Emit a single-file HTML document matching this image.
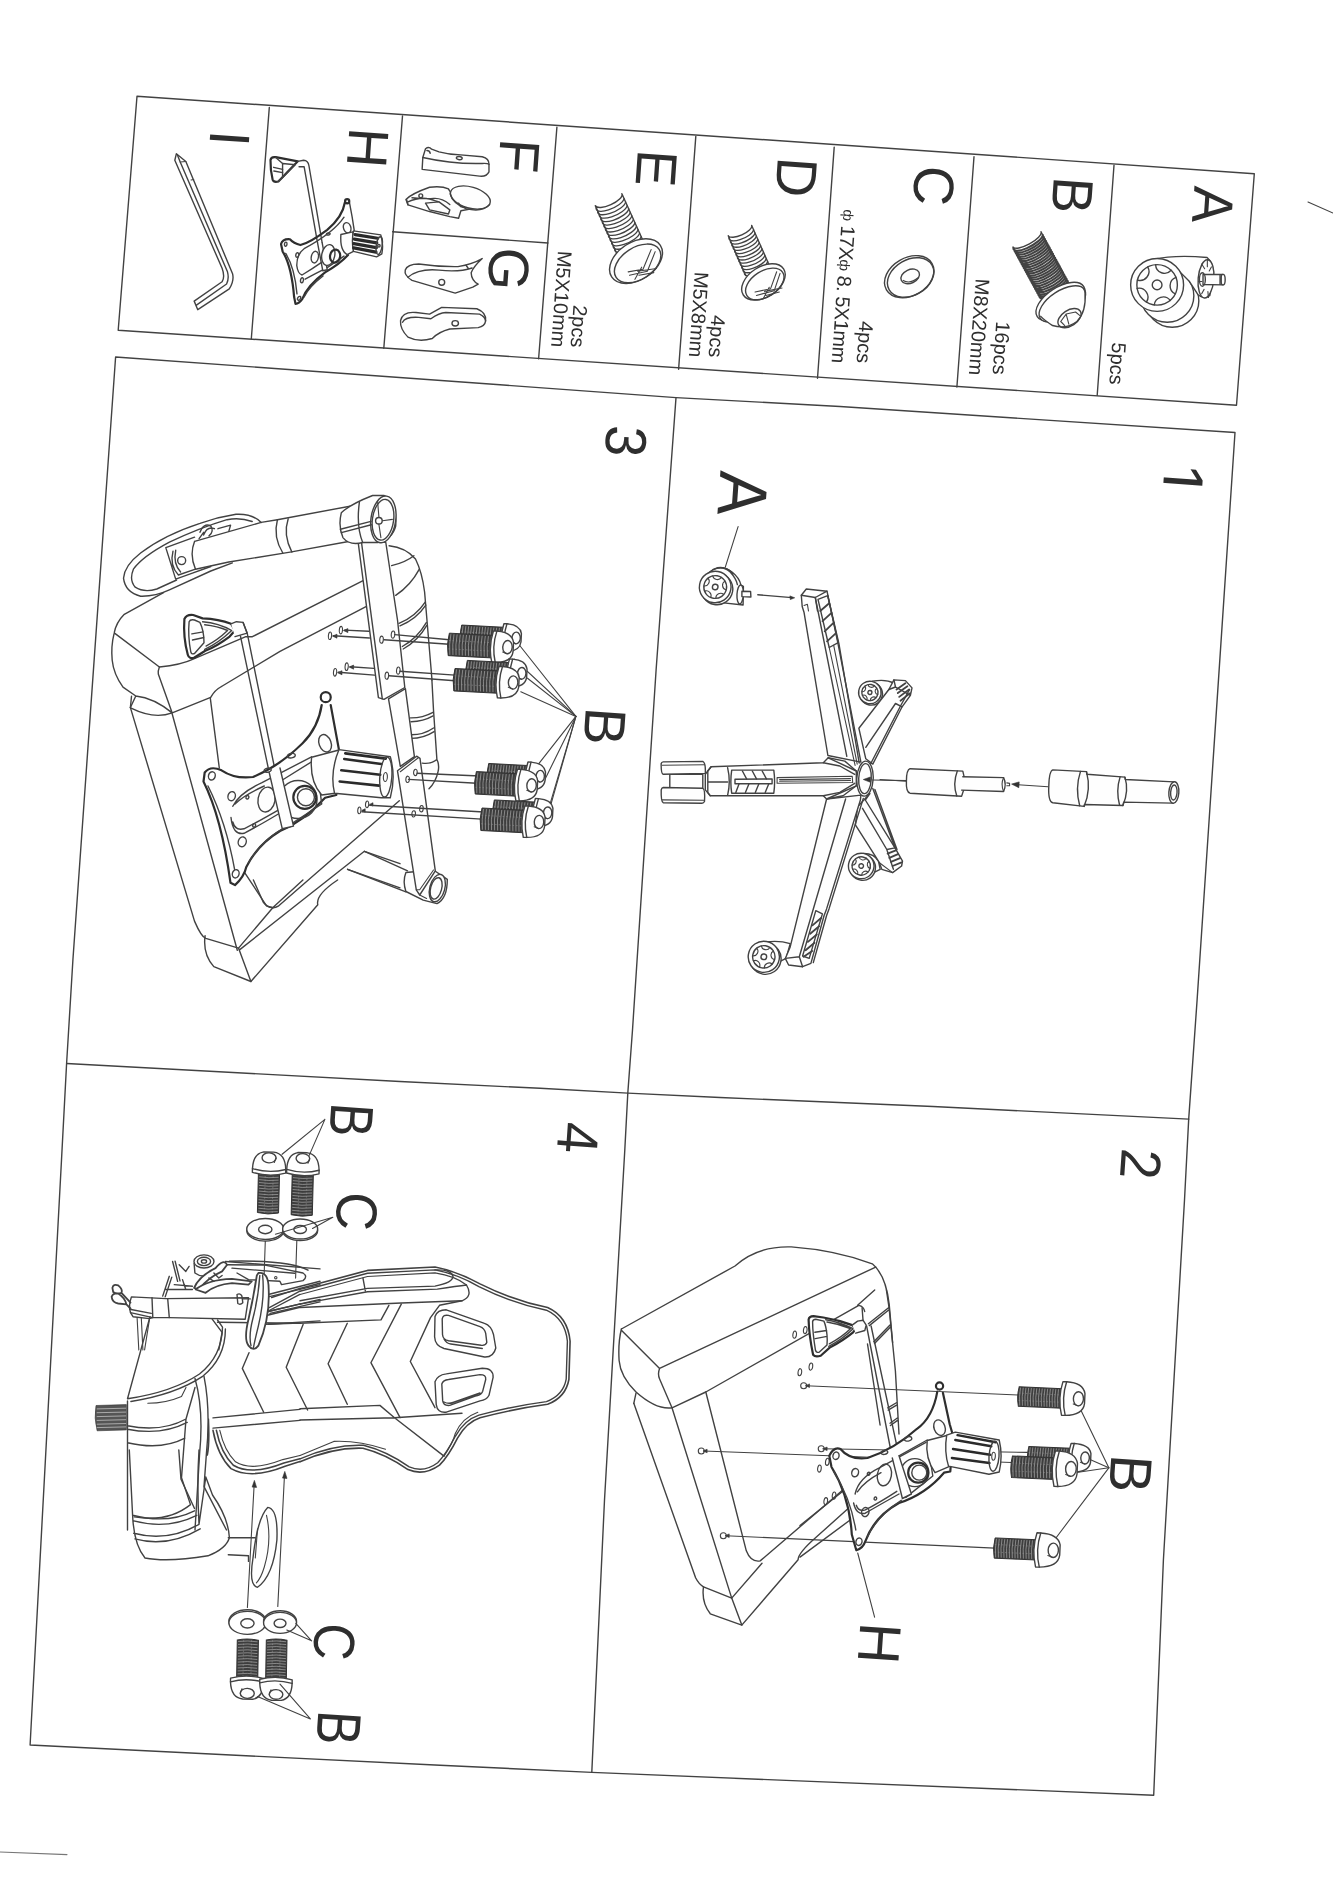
<!DOCTYPE html>
<html><head><meta charset="utf-8"><title>Assembly instructions</title>
<style>
html,body{margin:0;padding:0;background:#ffffff;}
body{width:1333px;height:1900px;overflow:hidden;}
svg{display:block;filter:grayscale(1);}
text{font-family:"Liberation Sans",sans-serif;fill:#2e2e2e;}
.l{fill:none;stroke:#424242;stroke-width:1.4;stroke-linecap:round;stroke-linejoin:round;vector-effect:non-scaling-stroke;}
.f{fill:#fefefe;stroke:#424242;stroke-width:1.4;stroke-linecap:round;stroke-linejoin:round;vector-effect:non-scaling-stroke;}
.t{fill:none;stroke:#424242;stroke-width:1.1;stroke-linecap:round;stroke-linejoin:round;vector-effect:non-scaling-stroke;}
.k{fill:#333;stroke:#333;stroke-width:0.6;stroke-linejoin:round;vector-effect:non-scaling-stroke;}
.b{fill:none;stroke:#2e2e2e;stroke-width:2.2;stroke-linecap:round;stroke-linejoin:round;vector-effect:non-scaling-stroke;}
</style></head>
<body>
<svg width="1333" height="1900" viewBox="0 0 1333 1900">
<rect width="1333" height="1900" fill="#ffffff"/>
<!-- frames -->
<g class="l" style="stroke-width:1.4">
<path d="M137,96.2 L1254.3,173.7 L1236.5,405.2 L118.2,330.2 Z"/>
<path d="M269.3,107.5 L251.3,339"/>
<path d="M402.5,116 L383.8,348.3"/>
<path d="M556.9,127.3 L538.6,358.8"/>
<path d="M392.6,231.7 L547.9,243"/>
<path d="M695.8,136.4 L678.6,369.2"/>
<path d="M834.2,147.1 L817.5,378.2"/>
<path d="M974,156.7 L956.9,387"/>
<path d="M1114,165.2 L1097.2,395.3"/>
<path d="M115.6,357 L500,384.8 L676,397.6 L840,406.5 L1235,432.5 L1197.1,1000 L1188.7,1119.1 L1184.5,1200 L1163.4,1560 L1153.7,1795.2 L780,1780.1 L591.8,1772.4 L440,1765.3 L30.1,1745 L61.5,1160 L66.6,1063.5 L72.9,960 Z"/>
<path d="M676,397.6 L656.1,670 L632.5,1030 L627.8,1093.1 L624.8,1150 L604.5,1500 L591.8,1772.4"/>
<path d="M66.6,1063.5 L400,1081.5 L540,1088.3 L627.8,1093.1 L720,1097.5 L933,1106.5 L1188.7,1119.1"/>
</g>
<path class="t" d="M1308,202 L1333,213"/>
<path class="t" d="M0,1852 L67,1854.6" style="stroke:#777"/>

<text transform="translate(210.5,129.5) rotate(94) scale(0.96,1)" font-size="57" text-anchor="start" class="big">I</text>
<text transform="translate(349.5,126.8) rotate(94) scale(0.96,1)" font-size="57" text-anchor="start" class="big">H</text>
<text transform="translate(500.5,137.7) rotate(94) scale(0.96,1)" font-size="57" text-anchor="start" class="big">F</text>
<text transform="translate(490.5,246.5) rotate(94) scale(0.96,1)" font-size="57" text-anchor="start" class="big">G</text>
<text transform="translate(638,148.8) rotate(94) scale(0.96,1)" font-size="57" text-anchor="start" class="big">E</text>
<text transform="translate(778,156.3) rotate(94) scale(0.96,1)" font-size="57" text-anchor="start" class="big">D</text>
<text transform="translate(915.5,164.7) rotate(94) scale(0.96,1)" font-size="57" text-anchor="start" class="big">C</text>
<text transform="translate(1054,175.8) rotate(94) scale(0.96,1)" font-size="57" text-anchor="start" class="big">B</text>
<text transform="translate(1194.5,185.5) rotate(94) scale(0.96,1)" font-size="57" text-anchor="start" class="big">A</text>
<text transform="translate(570.5,346.9) rotate(94) scale(1.0,1)" font-size="20" text-anchor="end" >2pcs</text>
<text transform="translate(551.2,346.9) rotate(94) scale(1.0,1)" font-size="20" text-anchor="end" >M5X10mm</text>
<text transform="translate(708.5,356.9) rotate(94) scale(1.0,1)" font-size="20" text-anchor="end" >4pcs</text>
<text transform="translate(688.9,356.9) rotate(94) scale(1.0,1)" font-size="20" text-anchor="end" >M5X8mm</text>
<text transform="translate(856.6,362.8) rotate(94) scale(1.0,1)" font-size="20" text-anchor="end" >4pcs</text>
<text transform="translate(831.6,362.8) rotate(94) scale(1.0,1)" font-size="20" text-anchor="end" textLength="154" lengthAdjust="spacing"><tspan font-size="14" dy="-1.5">ф</tspan><tspan dy="1.5"> 17X</tspan><tspan font-size="14" dy="-1.5">ф</tspan><tspan dy="1.5"> 8. 5X1mm</tspan></text>
<text transform="translate(992.5,374.2) rotate(94) scale(1.0,1)" font-size="20" text-anchor="end" >16pcs</text>
<text transform="translate(968.9,374.8) rotate(94) scale(1.0,1)" font-size="20" text-anchor="end" >M8X20mm</text>
<text transform="translate(1109.2,384.2) rotate(94) scale(1.0,1)" font-size="20" text-anchor="end" >5pcs</text>
<g transform="translate(110,90) scale(0.225058)" >
<path class="f" d="M295,283 L288,312 L498,792 Q512,830 498,852 L374,938 L390,976 L530,884 Q552,850 545,818 L337,318 Z" />
<path class="l" d="M300,290 L312,320 L522,808 Q530,838 518,862 L384,956" />
<path class="t" d="M312,320 L337,318 M360,400 L372,398" />
</g>

<g transform="translate(260,150) scale(0.105027)" >
<path class="b" d="M100,95 Q105,62 150,68 L360,108 L175,300 Q130,312 120,282 Q98,190 100,95 Z" />
<path class="l" d="M215,128 L335,140 L215,262 Z" />
<path class="l" d="M130,165 L215,185 M132,200 L215,215 M150,72 L215,128 M170,300 L215,262" />
<path class="l" d="M360,108 L415,98 Q458,100 466,150 L592,885 M372,160 L420,158 L548,885" />
<path class="b" d="M808,500 Q785,640 640,760 Q480,880 385,905 Q320,890 285,850 Q215,845 200,895 L215,965 Q300,1100 325,1400 L338,1465 Q372,1462 402,1420 Q450,1290 620,1165 Q760,1085 838,1000" />
<path class="l" d="M852,500 Q880,640 898,770" />
<circle class="b" cx="830" cy="488" r="20" />
<path class="l" d="M800,640 Q700,790 420,940 Q350,990 350,1100 Q360,1180 400,1190 Q500,1130 600,1060 M430,1230 Q520,1180 640,1120 L800,1010" />
<path class="l" d="M245,985 Q330,1120 352,1370 M420,1400 Q470,1300 600,1200" />
<path class="f" d="M548,885 L598,1150 L640,1140 L592,885" />
<ellipse class="f" cx="650" cy="1000" rx="62" ry="100" transform="rotate(10 650 1000)" />
<ellipse class="b" cx="715" cy="1010" rx="48" ry="62" transform="rotate(10 715 1010)" />
<ellipse class="l" cx="522" cy="1020" rx="34" ry="56" transform="rotate(10 522 1020)" />
<ellipse class="l" cx="245" cy="897" rx="12" ry="20" transform="rotate(10 245 897)" />
<ellipse class="l" cx="355" cy="1000" rx="14" ry="22" transform="rotate(10 355 1000)" />
<ellipse class="l" cx="400" cy="1240" rx="14" ry="24" transform="rotate(10 400 1240)" />
<ellipse class="l" cx="372" cy="1412" rx="13" ry="20" transform="rotate(30 372 1412)" />
<ellipse class="l" cx="650" cy="800" rx="18" ry="10" transform="rotate(-10 650 800)" />
<ellipse class="l" cx="830" cy="740" rx="35" ry="50" transform="rotate(-20 830 740)" />
<path class="f" d="M770,805 L885,780 L890,965 L830,995 Q760,960 770,805 Z" />
<path class="f" d="M890,770 L1150,808 Q1178,900 1160,990 L1110,1018 L890,965 Q870,870 890,770 Z" />
<path class="l" d="M905,805 L1120,840 M898,848 L1112,885 M893,892 L1108,930 M892,932 L1104,972" style="stroke-width:3.2;stroke:#2a2a2a"/>
<ellipse class="l" cx="1135" cy="910" rx="28" ry="85" transform="rotate(8 1135 910)" />
<circle class="l" cx="1132" cy="912" r="12" />
</g>

<g transform="translate(385,110) scale(0.135033)" >
<path class="f" d="M300,287 Q325,268 345,290 L400,310 Q480,332 560,332 L720,346 Q772,360 770,402 L770,458 Q750,497 700,490 L275,440 L280,352 Z" />
<path class="l" d="M280,352 Q500,402 720,396 Q760,394 770,402 M310,300 Q330,300 335,320" />
<ellipse class="l" cx="550" cy="356" rx="22" ry="12" transform="rotate(5 550 356)" />
<path class="f" d="M155,662 Q200,618 330,572 Q420,560 470,585 L480,600 Q500,660 560,700 L640,732 L562,746 L545,802 L480,790 L330,752 L170,702 Z" />
<path class="l" d="M170,680 Q260,640 330,660 L400,680 L480,740 L470,770 M200,650 Q300,660 360,655 Q420,650 480,700 M300,690 L330,740 L470,770 M160,665 L170,702 M400,680 L300,690" />
<circle class="l" cx="265" cy="635" r="14" />
<ellipse class="f" cx="632" cy="648" rx="152" ry="78" transform="rotate(16 632 648)" />
<path class="l" d="M483,620 Q500,690 600,730 Q720,760 775,700" />
<path class="l" d="M545,690 L560,715 L600,725" />
<path class="f" d="M150,1185 Q165,1140 250,1140 Q400,1162 540,1160 Q650,1140 720,1100 Q655,1160 638,1205 Q640,1262 690,1290 L650,1312 L520,1356 L200,1262 Q140,1225 150,1185 Z" />
<path class="l" d="M170,1238 Q250,1172 400,1186 Q550,1202 645,1170 M600,1150 L615,1170" />
<circle class="l" cx="420" cy="1276" r="22" />
<path class="f" d="M115,1560 Q130,1490 230,1500 L330,1512 L420,1462 L680,1472 Q752,1500 745,1562 Q740,1602 690,1612 L480,1622 Q400,1642 350,1692 Q250,1722 170,1682 Q110,1622 115,1560 Z" />
<path class="l" d="M130,1572 Q150,1530 250,1536 L340,1546 Q400,1502 450,1500 L700,1512 Q740,1530 745,1562" />
<ellipse class="l" cx="520" cy="1580" rx="24" ry="20" transform="rotate(0 520 1580)" />
</g>

<g transform="translate(535,120) scale(0.135033)" >
<path class="l" style="fill:#fefefe" d="M798.5,890.7 L643.5,545.7 A108.0,41.0 155.8 0 1 446.5,634.3 L601.5,979.3"/>
<path class="t" style="stroke-width:1.3" d="M659.9,582.2 A108.0,41.0 155.8 0 1 453.0,648.9 M671.4,607.8 A108.0,41.0 155.8 0 1 464.5,674.4 M682.9,633.4 A108.0,41.0 155.8 0 1 476.0,700.0 M694.4,658.9 A108.0,41.0 155.8 0 1 487.5,725.5 M705.8,684.5 A108.0,41.0 155.8 0 1 499.0,751.1 M717.3,710.0 A108.0,41.0 155.8 0 1 510.5,776.6 M728.8,735.6 A108.0,41.0 155.8 0 1 521.9,802.2 M740.3,761.1 A108.0,41.0 155.8 0 1 533.4,827.8 M751.8,786.7 A108.0,41.0 155.8 0 1 544.9,853.3 M763.2,812.2 A108.0,41.0 155.8 0 1 556.4,878.9 M774.7,837.8 A108.0,41.0 155.8 0 1 567.9,904.4 M786.2,863.4 A108.0,41.0 155.8 0 1 579.3,930.0 M797.7,888.9 A108.0,41.0 155.8 0 1 590.8,955.5"/>
<ellipse class="f" cx="748" cy="1045" rx="215" ry="140" transform="rotate(-33 748 1045)" />
<ellipse class="l" cx="760" cy="1062" rx="190" ry="118" transform="rotate(-33 760 1062)" />
<path class="t" d="M860,960 L800,1105 L690,1125 M890,975 L832,1120 L700,1150 M760,1120 L900,1100 M770,1150 L880,1130 M740,1180 L790,1090" />
</g>

<g transform="translate(670,130) scale(0.135033)" >
<path class="l" style="fill:#fefefe" d="M734.9,1001.7 L604.9,706.7 A95.0,36.1 156.2 0 1 431.1,783.3 L561.1,1078.3"/>
<path class="t" style="stroke-width:1.3" d="M619.4,739.4 A95.0,36.1 156.2 0 1 437.4,797.8 M629.8,763.0 A95.0,36.1 156.2 0 1 447.8,821.4 M640.2,786.6 A95.0,36.1 156.2 0 1 458.2,845.0 M650.6,810.2 A95.0,36.1 156.2 0 1 468.6,868.6 M661.0,833.8 A95.0,36.1 156.2 0 1 479.0,892.2 M671.4,857.4 A95.0,36.1 156.2 0 1 489.4,915.8 M681.8,881.0 A95.0,36.1 156.2 0 1 499.8,939.4 M692.2,904.6 A95.0,36.1 156.2 0 1 510.2,963.0 M702.6,928.2 A95.0,36.1 156.2 0 1 520.6,986.6 M713.0,951.8 A95.0,36.1 156.2 0 1 531.0,1010.2 M723.4,975.4 A95.0,36.1 156.2 0 1 541.4,1033.8 M733.8,999.0 A95.0,36.1 156.2 0 1 551.8,1057.4"/>
<ellipse class="f" cx="692" cy="1125" rx="178" ry="112" transform="rotate(-33 692 1125)" />
<ellipse class="l" cx="702" cy="1140" rx="158" ry="95" transform="rotate(-33 702 1140)" />
<path class="t" d="M790,1050 L745,1175 L630,1200 M815,1062 L772,1190 L640,1225 M700,1195 L830,1170 M710,1225 L810,1200 M690,1250 L735,1165" />
</g>

<g transform="translate(810,140) scale(0.135033)" >
<ellipse class="f" cx="735" cy="1012" rx="195" ry="140" transform="rotate(-30 735 1012)" />
<ellipse class="l" cx="745" cy="1018" rx="183" ry="132" transform="rotate(-30 745 1018)" />
<ellipse class="l" cx="742" cy="1010" rx="72" ry="50" transform="rotate(-25 742 1010)" />
<path class="t" d="M690,1040 Q740,1070 800,1020" />
</g>

<g transform="translate(950,150) scale(0.135033)" >
<path class="l" style="fill:#fefefe" d="M878.7,983.7 L673.7,605.7 A118.0,38.9 151.5 0 1 466.3,718.3 L671.3,1096.3"/>
<path class="t" style="stroke-width:2.0" d="M686.9,630.0 A118.0,38.9 151.5 0 1 469.9,724.9 M695.2,645.4 A118.0,38.9 151.5 0 1 478.2,740.3 M703.6,660.8 A118.0,38.9 151.5 0 1 486.6,755.7 M712.0,676.3 A118.0,38.9 151.5 0 1 495.0,771.2 M720.3,691.7 A118.0,38.9 151.5 0 1 503.3,786.6 M728.7,707.1 A118.0,38.9 151.5 0 1 511.7,802.0 M737.1,722.5 A118.0,38.9 151.5 0 1 520.1,817.5 M745.4,738.0 A118.0,38.9 151.5 0 1 528.4,832.9 M753.8,753.4 A118.0,38.9 151.5 0 1 536.8,848.3 M762.2,768.8 A118.0,38.9 151.5 0 1 545.2,863.7 M770.5,784.3 A118.0,38.9 151.5 0 1 553.5,879.2 M778.9,799.7 A118.0,38.9 151.5 0 1 561.9,894.6 M787.3,815.1 A118.0,38.9 151.5 0 1 570.3,910.0 M795.6,830.5 A118.0,38.9 151.5 0 1 578.6,925.5 M804.0,846.0 A118.0,38.9 151.5 0 1 587.0,940.9 M812.4,861.4 A118.0,38.9 151.5 0 1 595.4,956.3 M820.7,876.8 A118.0,38.9 151.5 0 1 603.7,971.7 M829.1,892.3 A118.0,38.9 151.5 0 1 612.1,987.2 M837.5,907.7 A118.0,38.9 151.5 0 1 620.5,1002.6 M845.8,923.1 A118.0,38.9 151.5 0 1 628.9,1018.0 M854.2,938.5 A118.0,38.9 151.5 0 1 637.2,1033.5 M862.6,954.0 A118.0,38.9 151.5 0 1 645.6,1048.9 M870.9,969.4 A118.0,38.9 151.5 0 1 654.0,1064.3 M879.3,984.8 A118.0,38.9 151.5 0 1 662.3,1079.7"/>
<ellipse class="f" cx="818" cy="1122" rx="205" ry="105" transform="rotate(-33 818 1122)" />
<ellipse class="f" cx="832" cy="1140" rx="195" ry="98" transform="rotate(-33 832 1140)" />
<path class="f" d="M672,1232 Q700,1262 760,1300 Q860,1330 940,1270 Q1010,1200 1000,1060 Q1000,1040 990,1030" />
<ellipse class="l" cx="885" cy="1245" rx="95" ry="58" transform="rotate(-33 885 1245)" />
<path class="t" d="M820,1270 L860,1215 L930,1200 L960,1225 M860,1215 L880,1290 M820,1270 L850,1300" />
</g>

<g transform="translate(1095,160) scale(0.135033)" >
<circle class="f" cx="572" cy="1042" r="197" />
<circle class="f" cx="535" cy="1005" r="197" />
<path class="f" d="M430,735 Q600,700 830,722 Q885,770 872,860 L850,1005 Q800,1030 765,1000 L700,900 L560,760 Z" />
<ellipse class="f" cx="822" cy="880" rx="58" ry="142" transform="rotate(5 822 880)" />
<path class="t" d="M790,770 L812,805 M832,742 L832,790 M862,792 L846,822 M790,990 L808,958 M840,1018 L836,975 M768,900 L792,900 M872,900 L850,898" />
<path class="f" d="M800,848 L948,848 L948,925 L800,922 Z" />
<ellipse class="f" cx="948" cy="886" rx="16" ry="39" transform="rotate(0 948 886)" />
<path class="t" d="M935,850 L935,922 M925,850 L925,922" />
<ellipse class="l" cx="795" cy="885" rx="22" ry="50" transform="rotate(0 795 885)" />
<circle class="f" cx="460" cy="925" r="196" />
<circle class="l" cx="460" cy="925" r="150" />
<circle class="l" cx="460" cy="925" r="36" />
<path class="l" d="M449,775 A66,66 0 0 0 564,817" />
<path class="l" d="M599,869 A66,66 0 0 0 595,991" />
<path class="l" d="M557,1040 A66,66 0 0 0 439,1074" />
<path class="l" d="M381,1052 A66,66 0 0 0 312,951" />
<path class="l" d="M314,889 A66,66 0 0 0 390,792" />
</g>

<clipPath id="c1"><rect x="0" y="-60" width="45" height="53.6"/></clipPath>
<text transform="translate(1158.5,461) rotate(94) scale(0.96,1)" font-size="66" text-anchor="start" class="big" clip-path="url(#c1)">1</text>
<text transform="translate(720.5,470.0) rotate(94) scale(0.96,1)" font-size="69" text-anchor="start" class="big">A</text>
<path class="t" d="M738.1,526.6 L725.3,567.2" />
<path class="f" d="M708.0,573.2 Q720.0,563.0 732.0,572.0 Q739.2,577.4 741.0,585.2 L743.4,586.4 L743.1,605.0 L723.6,602.9" />
<path class="l" d="M712.8,569.6 Q722.4,564.8 730.2,572.0 Q736.2,578.6 737.4,584.6 M717.6,567.8 Q726.0,566.0 733.2,573.8" />
<ellipse class="f" cx="740.1740487336455" cy="594.4538470771816" rx="3.2" ry="9.5" transform="rotate(3 740.1740487336455 594.4538470771816)" />
<path class="f" d="M741.9,591.2 L750.6,591.5 L750.9,597.0 L741.9,596.6 Z" />
<g transform="translate(715.2,587.0) rotate(10) scale(1.0,1)">
<circle class="f" cx="2.1" cy="1.6" r="15.8"/>
<circle class="f" r="15.8"/>
<circle class="l" r="11.4"/>
<circle class="l" r="2.8"/>
<path class="t" d="M-4.4,-10.5 A4.8,4.8 0 0 0 4.4,-10.5 M8.6,-7.5 A4.8,4.8 0 0 0 11.3,1.0 M9.7,5.9 A4.8,4.8 0 0 0 2.6,11.1 M-2.6,11.1 A4.8,4.8 0 0 0 -9.7,5.9 M-11.3,1.0 A4.8,4.8 0 0 0 -8.6,-7.5"/>
</g>
<path class="l" d="M757.8,594.8 L792.0,597.6" />
<path class="k" d="M794.7,597.8 L789.9,595.9 L790.3,599.6 Z" />
<path class="f" d="M872.4,681.3 Q885.6,678.8 893.9,683.2 L885.6,694.5 L879.0,706.0" />
<g transform="translate(869.9,692.5) rotate(10) scale(1.0,1)">
<circle class="f" cx="1.5" cy="1.1" r="11.3"/>
<circle class="f" r="11.3"/>
<circle class="l" r="8.1"/>
<circle class="l" r="2.0"/>
<path class="t" d="M-3.2,-7.5 A3.4,3.4 0 0 0 3.2,-7.5 M6.1,-5.3 A3.4,3.4 0 0 0 8.1,0.7 M7.0,4.2 A3.4,3.4 0 0 0 1.8,7.9 M-1.8,7.9 A3.4,3.4 0 0 0 -7.0,4.2 M-8.1,0.7 A3.4,3.4 0 0 0 -6.1,-5.3"/>
</g>
<path class="f" d="M862.0,853.6 Q873.6,852.8 878.5,861.1 L880.2,869.3 L873.6,872.6" />
<g transform="translate(861.2,866.0) rotate(10) scale(1.0,1)">
<circle class="f" cx="1.7" cy="1.3" r="12.8"/>
<circle class="f" r="12.8"/>
<circle class="l" r="9.2"/>
<circle class="l" r="2.3"/>
<path class="t" d="M-3.6,-8.5 A3.9,3.9 0 0 0 3.6,-8.5 M7.0,-6.0 A3.9,3.9 0 0 0 9.2,0.8 M7.9,4.8 A3.9,3.9 0 0 0 2.1,9.0 M-2.1,9.0 A3.9,3.9 0 0 0 -7.9,4.8 M-9.2,0.8 A3.9,3.9 0 0 0 -7.0,-6.0"/>
</g>
<path class="f" d="M766.3,941.9 Q779.5,940.3 790.2,943.6 L786.1,958.4 L779.5,961.7" />
<g transform="translate(763.8,956.8) rotate(10) scale(1.0,1)">
<circle class="f" cx="2.0" cy="1.6" r="15.6"/>
<circle class="f" r="15.6"/>
<circle class="l" r="11.2"/>
<circle class="l" r="2.8"/>
<path class="t" d="M-4.4,-10.3 A4.7,4.7 0 0 0 4.4,-10.3 M8.5,-7.4 A4.7,4.7 0 0 0 11.2,1.0 M9.6,5.8 A4.7,4.7 0 0 0 2.5,10.9 M-2.5,10.9 A4.7,4.7 0 0 0 -9.6,5.8 M-11.2,1.0 A4.7,4.7 0 0 0 -8.5,-7.4"/>
</g>
<path class="f" d="M801.3,595.3 L806.3,589.0 L827.0,591.2 L837.8,642.6 L860.9,762.1 L827.9,755.5 L804.0,612.2 L802.2,606.5 Z" />
<path class="l" d="M801.3,595.3 L815.3,597.5 L827.0,591.2 M815.3,597.5 L817.5,611.0" />
<path class="l" d="M815.3,597.5 L846.8,756.4" />
<path class="l" d="M827.7,595.3 L838.9,643.7 L859.2,763.0" />
<path class="t" d="M804.0,605.4 L807.4,604.3 L808.5,611.0" />
<path class="l" d="M818.0,599.3 L827.7,595.7 L838.2,642.6 L829.2,647.5 Z" />
<path class="l" d="M820.2,611.0 L829.2,603.2 M822.5,621.2 L831.5,612.8 M824.7,631.3 L833.7,622.7 M827.0,641.4 L836.0,633.1" style="stroke-width:1.8"/>
<path class="t" d="M829.2,647.5 L855.1,765.4 M833.7,645.3 L857.2,764.1" />
<path class="f" d="M858.9,728.3 L888.9,689.5 L893.9,679.9 L905.4,680.6 L912.0,687.9 L910.4,695.3 L902.1,706.8 L872.8,764.1 L865.8,758.8 Z" />
<path class="l" d="M865.8,747.3 L895.5,703.5 L902.1,706.8 M893.9,679.9 L895.5,687.0 L888.9,689.5 M895.5,687.0 L910.4,695.3" />
<path class="l" d="M870.8,763.5 L900.5,706.0 L909.6,689.5" />
<path class="l" d="M896.5,689.5 L905.4,683.2 M897.8,693.1 L907.4,686.2 M899.2,696.9 L909.1,689.5 M900.5,700.7 L910.1,693.1" style="stroke-width:1.8"/>
<path class="f" d="M869.9,793.5 L865.3,800.0 L895.0,847.9 L902.5,861.1 L901.6,866.0 L892.6,872.6 L881.8,869.3 L879.4,862.7 L855.4,824.8 L857.6,806.7 Z" />
<path class="l" d="M872.8,788.5 L895.0,847.9 M874.9,789.4 L897.0,849.5" />
<path class="l" d="M862.5,808.3 L886.8,849.5 L893.4,869.3 M886.8,849.5 L895.0,847.9" />
<path class="l" d="M887.6,853.6 L895.9,850.3 M889.3,857.8 L898.0,854.1 M890.9,861.9 L900.0,858.1 M892.6,866.0 L901.6,862.4" style="stroke-width:1.8"/>
<path class="t" d="M879.4,862.7 L892.6,872.6" />
<path class="f" d="M826.6,799.0 L790.2,946.9 L785.3,958.4 L788.6,965.0 L802.6,966.7 L810.9,963.4 L824.1,915.5 L826.6,908.9 L860.4,800.0 L860.9,795.1 Z" />
<path class="l" d="M845.6,799.0 L799.3,956.8 L802.6,966.7 M799.3,956.8 L785.3,958.4" />
<path class="l" d="M863.3,798.4 L829.0,908.9 L826.6,915.5 L813.3,962.6" />
<path class="l" d="M815.8,910.6 L822.4,913.9 L809.2,958.4 L802.6,956.0 Z" />
<path class="l" d="M812.5,925.4 L821.1,918.0 M810.2,933.7 L819.1,926.3 M807.9,941.9 L816.8,934.5 M805.6,950.2 L814.5,942.8 M803.6,956.8 L812.2,951.0" style="stroke-width:1.8"/>
<path class="f" d="M828.2,757.8 L823.3,762.7 L711.1,766.8 L705.3,774.3 L705.3,789.9 L710.2,795.7 L823.3,795.7 L826.6,799.0 L856.3,785.8 L856.3,771.0 Z" />
<path class="l" d="M711.1,766.8 L707.8,771.0 L707.8,792.4 L710.2,795.7 M707.8,781.7 L727.6,782.0 M727.6,767.7 Q730.9,781.7 727.6,795.4" />
<path class="l" d="M731.7,770.1 L773.8,770.1 Q775.4,781.7 773.8,793.2 L731.7,793.2 Q730.0,781.7 731.7,770.1 Z M735.0,779.2 L772.1,778.9 L772.1,783.8 L735.0,783.8 Z" />
<path class="l" d="M742.4,771.0 L746.6,778.9 M752.3,771.0 L756.5,778.9 M762.2,771.0 L766.4,778.9 M739.1,783.8 L735.8,792.4 M749.0,783.8 L745.4,792.4 M758.9,783.8 L755.3,792.4 M768.8,783.8 L765.2,792.4" />
<path class="t" d="M777.1,777.6 L852.2,776.3 L852.7,782.5 L777.1,783.3 Z M779.6,779.6 L850.5,778.6 M779.6,781.2 L850.5,780.5" />
<path class="l" d="M828.2,757.8 L844.8,761.1 L856.3,771.0 M826.6,799.0 L843.1,795.7 L856.3,785.8 M823.3,762.7 L839.8,766.0 L854.7,774.3 M823.3,795.7 L839.8,792.4 L854.7,783.3" />
<path class="f" d="M669.8,774.3 L702.8,774.3 L702.8,789.1 L669.8,789.1 Z" />
<path class="f" d="M663.2,761.9 L702.8,761.4 Q705.8,762.7 705.3,773.4 L663.2,774.3 Q660.9,773.4 661.2,763.5 Q661.6,762.1 663.2,761.9 Z" />
<path class="f" d="M663.2,787.5 L702.8,788.3 Q705.3,789.1 704.5,801.5 Q703.6,803.2 702.0,803.2 L663.2,802.7 Q660.9,801.5 661.2,789.9 Q661.6,787.8 663.2,787.5 Z" />
<path class="t" d="M662.4,765.2 L704.5,764.7 M662.4,799.9 L703.6,800.3" />
<ellipse class="f" cx="864.9975243439511" cy="778.636738735765" rx="8.2" ry="17.5" transform="rotate(3 864.9975243439511 778.636738735765)" />
<ellipse class="l" cx="864.9975243439511" cy="778.636738735765" rx="6.3" ry="15" transform="rotate(3 864.9975243439511 778.636738735765)" />
<path class="t" d="M872.4,780.0 L907.1,780.6" />
<path class="k" d="M863.3,779.5 L870.4,777.0 L870.4,782.3 Z" />
<path class="t" d="M880.0,779.5 L906.4,781.2" />
<path class="f" d="M910.0,768.7 L962.8,771.1 Q966.9,783.6 961.6,796.3 L910.0,793.2 Q905.9,792.0 906.4,781.2 Q906.4,769.9 910.0,768.7 Z" />
<path class="l" d="M957.3,770.9 Q952.5,783.6 956.8,796.1" />
<path class="f" d="M962.8,776.7 L1003.6,777.6 Q1006.8,784.3 1003.6,791.5 L961.6,790.1" />
<path class="t" d="M1003.6,777.6 Q1000.5,784.3 1003.6,791.5 M1006.8,782.9 L1009.6,783.4 L1009.6,785.8 L1006.8,785.8" />
<path class="t" d="M1018.0,784.8 L1048.0,786.7" />
<path class="k" d="M1011.6,784.1 L1019.2,781.9 L1018.8,787.7 Z" />
<path class="f" d="M1052.8,769.9 L1086.5,771.6 L1086.9,774.3 L1124.9,777.1 L1125.3,779.5 L1174.1,781.9 Q1180.1,792.0 1172.9,803.1 L1123.7,802.1 L1122.9,805.5 L1084.5,804.5 L1084.1,806.4 L1052.8,802.8 Q1048.0,801.6 1048.8,786.0 Q1049.2,770.9 1052.8,769.9 Z" />
<path class="l" d="M1086.5,771.6 Q1091.3,789.6 1084.1,806.4 M1080.5,771.4 Q1074.9,788.4 1079.7,805.7 M1124.9,777.1 Q1129.2,790.8 1122.9,805.5 M1120.1,776.9 Q1115.7,790.8 1119.6,805.2" />
<ellipse class="f" cx="1173.8352218167852" cy="792.4985596312656" rx="5" ry="10.8" transform="rotate(4 1173.8352218167852 792.4985596312656)" />
<ellipse class="l" cx="1173.8352218167852" cy="792.4985596312656" rx="3.2" ry="7.5" transform="rotate(4 1173.8352218167852 792.4985596312656)" />
<text transform="translate(607,424.5) rotate(94) scale(0.96,1)" font-size="58" text-anchor="start" class="big">3</text>
<text transform="translate(586,706.5) rotate(94) scale(0.96,1)" font-size="58" text-anchor="start" class="big">B</text>
<path class="l" d="M205.1,935.7 Q202.6,954.3 213.8,966.6 L250.9,981.5 L317.8,904.8 Q315.3,894.9 337.6,880.0" />
<path class="l" d="M163.5,592.7 L124.3,614.3 Q116.2,622.4 114.2,632.9 Q110.8,646.7 112.2,660.2 Q113.5,673.7 123.0,687.2 L135.8,696.0 M114.2,632.9 L159.4,667.0 Q157.8,671.0 158.3,674.0 L172.2,712.9 M135.8,696.0 Q154.0,698.0 172.2,712.9 L210.7,697.4 Q214.8,689.9 221.5,686.5 M135.8,696.0 L130.4,707.5 M131.1,708.2 Q154.0,719.6 172.2,712.9" />
<path class="l" d="M159.4,667.0 Q181.0,664.9 193.2,659.1 L245.8,636.6 L252.4,636.7 L363.1,580.6" />
<path class="l" d="M221.5,686.5 L280.0,651.4 L366.5,606.3" />
<path class="l" d="M131.5,696.3 L130.4,707.6" />
<path class="l" d="M130.4,707.6 L194.5,921.1 Q201.3,936.8 205.8,938.4 L238.5,948.1 L250.9,981.5" />
<path class="l" d="M172.0,713.2 L237.3,950.3" />
<path class="l" d="M210.3,698.1 L219.3,768.0" />
<path class="l" d="M238.5,948.1 L273.2,907.2 L302.9,880.0 M253.4,880.0 L263.3,902.3 Q268.2,908.5 274.4,907.2" />
<path class="l" d="M244.0,871.6 L266.5,905.8 Q273.3,909.4 278.2,906.2 L399.3,800.7 M239.5,949.9 L364.4,851.3 L400.0,863.7 M347.6,869.3 L400.0,887.8" />
<path class="l" d="M261.2,522.4 Q252.2,513.4 236.0,514.3 Q218.0,517.0 200.0,523.3 Q164.0,535.0 140.6,553.0 Q124.4,565.6 123.5,578.2 Q125.3,592.6 140.6,596.2 Q155.0,596.6 169.4,589.9 L210.8,571.0 L232.4,562.9 M252.2,521.5 Q239.6,517.0 227.0,519.7 Q200.0,527.8 169.4,542.2 Q142.4,556.6 133.4,569.2 Q128.9,580.0 135.2,587.2 Q144.2,593.0 156.8,589.0 L176.6,580.0" />
<path class="l" d="M165.8,547.6 L175.7,579.1 L191.0,573.7 L210.8,566.5 M165.8,547.6 L194.6,537.2 M173.0,551.2 Q169.4,565.6 178.4,575.0 L195.5,569.2 M175.7,550.3 Q173.0,563.8 180.6,571.9" />
<circle class="l" cx="181.66006481814907" cy="560.5797623334533" r="4" />
<path class="l" d="M200.0,532.3 Q203.6,522.4 210.8,526.0 Q214.4,531.4 209.0,535.9 M203.6,535.0 Q207.2,526.0 214.4,528.7 M218.0,528.7 L230.6,525.1 L228.8,531.4 M199.1,538.6 L203.6,532.3" />
<path class="l" d="M194.6,541.3 Q189.2,554.8 195.5,569.2 L228.8,562.0 L290.1,552.1 L350.0,541.3 M194.6,541.3 L261.2,522.4 L277.4,519.7 L350.0,506.2" />
<path class="l" d="M277.4,519.7 Q272.9,536.8 282.8,553.0 M288.2,518.8 Q282.8,535.0 291.9,552.1" />
<path class="l" d="M389.1,545.8 Q405.6,547.5 415.5,559.0 Q422.1,572.2 424.6,592.0 L432.0,680.0" />
<path class="l" d="M431.9,680.0 L433.5,710.0 L436.9,759.5 Q439.7,765.2 438.0,771.9 Q435.8,782.0 429.0,788.8 M422.3,763.1 Q431.3,764.3 436.9,759.5" />
<path class="l" d="M391.6,565.6 Q405.6,562.3 413.9,555.7 M395.7,595.3 Q410.6,585.4 419.2,569.3 M399.0,623.4 Q415.5,616.8 425.4,601.9 M400.0,625.9 Q416.4,619.3 425.8,605.2 M402.3,646.5 Q417.2,638.2 426.3,622.6 M403.2,649.0 Q418.0,640.7 426.8,625.4" />
<path class="l" d="M410.5,717.9 Q422.3,718.1 433.0,712.3 M411.0,721.8 Q423.4,721.5 433.0,715.9 M410.5,734.8 Q423.4,735.0 433.5,728.0 M411.0,738.4 Q423.4,738.4 434.1,731.6" />
<path class="l" d="M364.5,851.3 L407.6,870.8 M347.6,869.3 L405.9,891.9" />
<path class="f" d="M405.9,872.5 Q402.5,881.2 405.9,891.5 L423.2,900.1 L437.0,903.6 Q447.3,898.4 447.3,879.4 L433.5,870.0 Z" />
<ellipse class="f" cx="437.3209448384147" cy="888.070466035164" rx="7.5" ry="14" transform="rotate(15 437.3209448384147 888.070466035164)" />
<ellipse class="l" cx="436.1131528547026" cy="888.4155494590817" rx="5.5" ry="11" transform="rotate(15 436.1131528547026 888.4155494590817)" />
<path class="t" d="M419.7,895.0 L426.6,898.4" />
<path class="f" d="M388.5,698.8 L400.3,766.3 L414.4,756.7 L405.4,688.6 Z" />
<path class="f" d="M356.9,532.6 L378.4,697.6 L384.0,699.3 L404.8,687.5 L397.5,620.0 L385.8,542.5 Z" />
<path class="l" d="M360.2,532.6 L382.3,698.8" />
<path class="f" d="M397.5,770.8 L416.6,756.2 L420.0,758.4 L435.3,870.8 L419.7,895.0 L416.3,889.8 Z" />
<path class="t" d="M400.3,771.7 L418.0,758.0" />
<path class="t" d="M416.3,889.8 L419.7,889.8 L433.5,870.0" />
<path class="f" d="M341.3,512.8 Q349.5,504.6 372.6,495.5 L384.2,495.5 Q397.4,502.9 395.7,526.0 Q392.4,539.2 377.6,542.5 L362.7,542.5 Q349.5,545.8 342.9,537.6 Q338.0,526.0 341.3,512.8 Z" />
<ellipse class="f" cx="383.34708697804916" cy="519.4157451724707" rx="12.4" ry="23.5" transform="rotate(8 383.34708697804916 519.4157451724707)" />
<ellipse class="l" cx="383.0169995048688" cy="519.7458326456511" rx="10.6" ry="20.5" transform="rotate(8 383.0169995048688 519.7458326456511)" />
<circle class="l" cx="378.89090609011384" cy="520.7360950651923" r="3.3" />
<path class="t" d="M378.9,516.9 L377.6,501.3 M378.9,524.4 L380.9,537.6 M382.5,520.7 L392.4,519.4" />
<path class="l" d="M359.4,502.1 Q356.1,526.0 362.7,542.5 M340.4,529.3 L371.0,521.4 M341.3,532.6 L371.3,524.7" />
<ellipse class="t" cx="381.5359513896703" cy="639.6916844829526" rx="1.8" ry="3.6" transform="rotate(5 381.5359513896703 639.6916844829526)" />
<ellipse class="t" cx="393.0133903454484" cy="634.6281084730505" rx="1.8" ry="3.6" transform="rotate(5 393.0133903454484 634.6281084730505)" />
<ellipse class="t" cx="386.8245752222347" cy="675.6993361089231" rx="1.8" ry="3.6" transform="rotate(5 386.8245752222347 675.6993361089231)" />
<ellipse class="t" cx="398.3020141780128" cy="670.635760099021" rx="1.8" ry="3.6" transform="rotate(5 398.3020141780128 670.635760099021)" />
<ellipse class="t" cx="415.4081474196387" cy="772.4675190227238" rx="1.8" ry="3.2" transform="rotate(5 415.4081474196387 772.4675190227238)" />
<ellipse class="t" cx="407.64377038148973" cy="779.3691875010784" rx="1.8" ry="3.2" transform="rotate(5 407.64377038148973 779.3691875010784)" />
<ellipse class="t" cx="421.447107338199" cy="808.7012785340856" rx="1.8" ry="3.2" transform="rotate(5 421.447107338199 808.7012785340856)" />
<ellipse class="t" cx="413.68273030005" cy="813.8775298928516" rx="1.8" ry="3.2" transform="rotate(5 413.68273030005 813.8775298928516)" />
<ellipse class="t" cx="340.91481939912234" cy="630.1271520198042" rx="1.6" ry="3.8" transform="rotate(5 340.91481939912234 630.1271520198042)" />
<path class="k" d="M343.4,630.5 L347.9,628.6 L347.9,632.6 Z" />
<ellipse class="t" cx="330.0" cy="635.7533475863621" rx="1.6" ry="3.8" transform="rotate(5 330.0 635.7533475863621)" />
<path class="k" d="M332.5,636.1 L337.0,634.2 L337.0,638.2 Z" />
<ellipse class="t" cx="346.6535388770114" cy="666.6974232024305" rx="1.6" ry="3.8" transform="rotate(5 346.6535388770114 666.6974232024305)" />
<path class="k" d="M349.1,667.0 L353.6,665.1 L353.6,669.2 Z" />
<ellipse class="t" cx="335.0635760099021" cy="672.3236187689884" rx="1.6" ry="3.8" transform="rotate(5 335.0635760099021 672.3236187689884)" />
<path class="k" d="M337.5,672.7 L342.0,670.7 L342.0,674.8 Z" />
<ellipse class="t" cx="367.0964680711562" cy="804.387735735114" rx="1.6" ry="3.4" transform="rotate(5 367.0964680711562 804.387735735114)" />
<path class="k" d="M369.5,804.4 L373.0,802.7 L373.0,806.1 Z" />
<ellipse class="t" cx="359.33209103300726" cy="810.4266956536743" rx="1.6" ry="3.4" transform="rotate(5 359.33209103300726 810.4266956536743)" />
<path class="k" d="M361.7,810.4 L365.2,808.7 L365.2,812.2 Z" />
<path class="l" d="M344.6,630.1 L368.8,631.3 M333.4,635.8 L369.4,638.0 M384.0,639.7 L449.3,644.2 M394.7,634.6 L449.3,639.7 M350.3,666.7 L373.9,668.4 M338.4,672.3 L374.4,675.1 M389.1,675.7 L454.9,680.8 M399.8,671.2 L454.9,675.1" />
<path class="l" d="M369.7,805.3 L492.2,812.5 M361.9,811.8 L481.8,819.1 M417.1,773.3 L485.3,776.3 M408.5,779.4 L476.7,783.2" />
<path class="b" d="M184.4,619.0 Q186.4,614.3 193.2,615.0 L202.6,618.4 Q218.8,619.0 231.0,623.8 L235.0,630.5 L229.6,636.6 Q216.1,646.7 205.3,650.8 L194.5,657.5 Q189.1,659.5 187.8,654.8 Q183.0,637.3 184.4,619.0 Z" style="fill:#fefefe"/>
<path class="l" d="M189.1,621.7 Q190.2,619.0 194.5,620.0 L199.9,622.4 Q204.0,630.5 204.0,642.7 L194.5,653.5 Q191.1,654.8 190.7,651.4 Q187.8,635.9 189.1,621.7 Z M202.6,621.7 Q218.8,623.1 231.7,630.5 Q218.8,642.7 204.7,649.4 M204.7,624.8 Q217.5,626.2 227.6,630.5 Q217.5,640.2 206.0,646.0 M191.8,633.9 L203.3,631.9 M192.5,640.0 L204.0,637.5" />
<path class="f" d="M231.0,623.8 L236.4,621.7 L243.1,622.4 L247.2,633.2 L235.0,636.6" />
<path class="l" d="M243.1,622.4 L247.2,633.2 L275.5,772.5 M240.4,635.9 L269.2,772.5" />
<path class="b" d="M321.7,705.0 Q318.3,727.5 302.6,743.3 Q280.0,765.8 253.0,777.0 Q235.0,779.3 221.5,770.3 Q210.3,765.3 204.7,772.5 L203.5,781.5 Q221.5,817.5 230.5,882.8 L235.0,885.1 Q244.0,877.2 246.3,867.1 Q257.5,844.5 280.0,831.0 Q302.6,822.0 325.1,797.7 L336.3,795.0 L339.0,750.0 L330.7,705.0" style="fill:#fefefe"/>
<circle class="b" cx="325.73312628001713" cy="697.1345621497536" r="5" />
<path class="l" d="M208.0,786.0 Q226.0,822.0 234.6,869.3 M248.5,862.6 Q262.0,840.0 284.5,827.7" />
<path class="l" d="M232.8,806.3 Q239.5,792.8 262.0,782.7 L311.6,756.8 M231.0,817.5 Q232.8,835.5 244.0,833.3 Q257.5,826.5 280.0,813.0 M235.0,804.0 Q244.0,795.0 264.3,786.0 M232.8,822.0 Q235.0,831.0 244.0,828.8 Q257.5,822.0 277.8,810.3" />
<path class="l" d="M280.0,781.5 L316.1,759.0 L321.7,804.0 L289.0,825.4 Z" />
<circle class="l" cx="298.050998132019" cy="799.5359305021043" r="19" />
<circle class="b" cx="304.8027367047015" cy="797.2853509778768" r="11.5" />
<circle class="l" cx="305.92802646681525" cy="797.2853509778768" r="8.5" />
<ellipse class="l" cx="266.5428847928342" cy="799.5359305021043" rx="8.5" ry="12.5" transform="rotate(10 266.5428847928342 799.5359305021043)" />
<ellipse class="l" cx="211.8538023541062" cy="775.9048454977157" rx="3.3600000000000003" ry="4.2" transform="rotate(15 211.8538023541062 775.9048454977157)" />
<ellipse class="l" cx="231.6589021673081" cy="796.1600612157631" rx="3.6799999999999997" ry="4.6" transform="rotate(15 231.6589021673081 796.1600612157631)" />
<ellipse class="l" cx="242.2366259311773" cy="841.846825557581" rx="4.0" ry="5" transform="rotate(15 242.2366259311773 841.846825557581)" />
<ellipse class="l" cx="235.70994531091756" cy="873.8050548016114" rx="3.3600000000000003" ry="4.2" transform="rotate(15 235.70994531091756 873.8050548016114)" />
<ellipse class="l" cx="247.41295883690051" cy="797.2853509778768" rx="1.4400000000000002" ry="1.8" transform="rotate(15 247.41295883690051 797.2853509778768)" />
<ellipse class="l" cx="254.16469740958297" cy="825.4175950307203" rx="1.4400000000000002" ry="1.8" transform="rotate(15 254.16469740958297 825.4175950307203)" />
<ellipse class="l" cx="291.2992595593365" cy="755.6496297796683" rx="4" ry="2.3" transform="rotate(-10 291.2992595593365 755.6496297796683)" />
<ellipse class="l" cx="267.6681745549479" cy="770.2783966871469" rx="3.6" ry="2" transform="rotate(-10 267.6681745549479 770.2783966871469)" />
<ellipse class="l" cx="325.0579524227488" cy="743.2714423964171" rx="6" ry="9" transform="rotate(-20 325.0579524227488 743.2714423964171)" />
<path class="f" d="M269.2,772.5 L282.3,828.8 L293.5,826.1 L280.0,768.0" />
<path class="f" d="M311.6,757.2 L339.0,750.0 L335.2,793.2 L321.7,795.0 Q309.3,781.5 311.6,757.2 Z" />
<path class="f" d="M339.0,749.6 L390.3,756.8 Q396.0,777.0 390.3,797.7 L381.3,797.7 L334.5,793.2 Q329.6,772.5 339.0,749.6 Z" />
<path class="l" d="M344.2,759.0 L381.3,764.0 M341.3,770.3 L380.2,774.8 M339.7,781.5 L379.1,785.6 M345.3,753.4 L385.8,758.6" style="stroke-width:2.6;stroke:#2a2a2a"/>
<ellipse class="l" cx="385.82359957689107" cy="777.0301352598294" rx="6" ry="20" transform="rotate(4 385.82359957689107 777.0301352598294)" />
<ellipse class="t" cx="385.37348367204555" cy="777.0301352598294" rx="2" ry="4.5" transform="rotate(4 385.37348367204555 777.0301352598294)" />
<path class="t" d="M575.9,716.4 L519.7,645.5" />
<path class="t" d="M575.9,716.4 L514.0,659.0" />
<path class="t" d="M575.9,716.4 L527.5,678.2" />
<path class="t" d="M575.9,716.4 L520.8,691.7" />
<path class="t" d="M575.9,716.4 L538.8,763.7" />
<path class="t" d="M575.9,716.4 L543.3,782.8" />
<path class="t" d="M575.9,716.4 L550.0,804.2" />
<path class="t" d="M575.9,716.4 L547.8,815.4" />
<g transform="translate(370,560) scale(0.225058)" >
<g transform="translate(405.0,335.0) rotate(3)">
<path d="M0,-46.0 L187.0,-46.0 L187.0,46.0 L0,46.0 Q-10.1,0 0,-46.0 Z" style="fill:#3d3d3d;stroke:#333;stroke-width:1;vector-effect:non-scaling-stroke"/>
<path d="M6.2,-42.3 Q0.7,0 6.2,42.3 M18.7,-42.3 Q13.2,0 18.7,42.3 M31.2,-42.3 Q25.6,0 31.2,42.3 M43.6,-42.3 Q38.1,0 43.6,42.3 M56.1,-42.3 Q50.6,0 56.1,42.3 M68.6,-42.3 Q63.0,0 68.6,42.3 M81.0,-42.3 Q75.5,0 81.0,42.3 M93.5,-42.3 Q88.0,0 93.5,42.3 M106.0,-42.3 Q100.4,0 106.0,42.3 M118.4,-42.3 Q112.9,0 118.4,42.3 M130.9,-42.3 Q125.4,0 130.9,42.3 M143.4,-42.3 Q137.8,0 143.4,42.3 M155.8,-42.3 Q150.3,0 155.8,42.3 M168.3,-42.3 Q162.8,0 168.3,42.3 M180.8,-42.3 Q175.2,0 180.8,42.3" style="fill:none;stroke:#c8c8c8;stroke-width:0.55;vector-effect:non-scaling-stroke"/>
<path d="M0,-16.1 L187.0,-16.1 M0,18.4 L187.0,18.4" style="fill:none;stroke:#9a9a9a;stroke-width:0.5;stroke-dasharray:1.5 2;vector-effect:non-scaling-stroke"/>
<path class="f" d="M187.0,-62.0 Q169.6,0 187.0,62.0 L200.6,62.0 Q263.0,58.9 267.0,15.5 L267.0,-21.7 Q259.0,-60.8 200.6,-62.0 Z"/>
<path class="l" d="M200.6,-62.0 Q183.3,0 200.6,62.0"/>
<ellipse class="l" cx="244.6" cy="-1.2" rx="18.6" ry="26.0"/>
<path class="t" d="M227.0,18.6 L244.6,24.8"/>
</g>
<g transform="translate(350.0,375.0) rotate(3)">
<path d="M0,-50.0 L195.0,-50.0 L195.0,50.0 L0,50.0 Q-11.0,0 0,-50.0 Z" style="fill:#3d3d3d;stroke:#333;stroke-width:1;vector-effect:non-scaling-stroke"/>
<path d="M7.0,-46.0 Q1.0,0 7.0,46.0 M20.9,-46.0 Q14.9,0 20.9,46.0 M34.8,-46.0 Q28.8,0 34.8,46.0 M48.8,-46.0 Q42.8,0 48.8,46.0 M62.7,-46.0 Q56.7,0 62.7,46.0 M76.6,-46.0 Q70.6,0 76.6,46.0 M90.5,-46.0 Q84.5,0 90.5,46.0 M104.5,-46.0 Q98.5,0 104.5,46.0 M118.4,-46.0 Q112.4,0 118.4,46.0 M132.3,-46.0 Q126.3,0 132.3,46.0 M146.2,-46.0 Q140.2,0 146.2,46.0 M160.2,-46.0 Q154.2,0 160.2,46.0 M174.1,-46.0 Q168.1,0 174.1,46.0 M188.0,-46.0 Q182.0,0 188.0,46.0" style="fill:none;stroke:#c8c8c8;stroke-width:0.55;vector-effect:non-scaling-stroke"/>
<path d="M0,-17.5 L195.0,-17.5 M0,20.0 L195.0,20.0" style="fill:none;stroke:#9a9a9a;stroke-width:0.5;stroke-dasharray:1.5 2;vector-effect:non-scaling-stroke"/>
<path class="f" d="M195.0,-70.0 Q175.4,0 195.0,70.0 L210.4,70.0 Q282.4,66.5 287.0,17.5 L287.0,-24.5 Q277.8,-68.6 210.4,-70.0 Z"/>
<path class="l" d="M210.4,-70.0 Q190.8,0 210.4,70.0"/>
<ellipse class="l" cx="261.2" cy="-1.4" rx="21.0" ry="29.4"/>
<path class="t" d="M241.0,21.0 L261.2,28.0"/>
</g>
<g transform="translate(430.0,492.0) rotate(3)">
<path d="M0,-46.0 L187.0,-46.0 L187.0,46.0 L0,46.0 Q-10.1,0 0,-46.0 Z" style="fill:#3d3d3d;stroke:#333;stroke-width:1;vector-effect:non-scaling-stroke"/>
<path d="M6.2,-42.3 Q0.7,0 6.2,42.3 M18.7,-42.3 Q13.2,0 18.7,42.3 M31.2,-42.3 Q25.6,0 31.2,42.3 M43.6,-42.3 Q38.1,0 43.6,42.3 M56.1,-42.3 Q50.6,0 56.1,42.3 M68.6,-42.3 Q63.0,0 68.6,42.3 M81.0,-42.3 Q75.5,0 81.0,42.3 M93.5,-42.3 Q88.0,0 93.5,42.3 M106.0,-42.3 Q100.4,0 106.0,42.3 M118.4,-42.3 Q112.9,0 118.4,42.3 M130.9,-42.3 Q125.4,0 130.9,42.3 M143.4,-42.3 Q137.8,0 143.4,42.3 M155.8,-42.3 Q150.3,0 155.8,42.3 M168.3,-42.3 Q162.8,0 168.3,42.3 M180.8,-42.3 Q175.2,0 180.8,42.3" style="fill:none;stroke:#c8c8c8;stroke-width:0.55;vector-effect:non-scaling-stroke"/>
<path d="M0,-16.1 L187.0,-16.1 M0,18.4 L187.0,18.4" style="fill:none;stroke:#9a9a9a;stroke-width:0.5;stroke-dasharray:1.5 2;vector-effect:non-scaling-stroke"/>
<path class="f" d="M187.0,-62.0 Q169.6,0 187.0,62.0 L200.6,62.0 Q263.0,58.9 267.0,15.5 L267.0,-21.7 Q259.0,-60.8 200.6,-62.0 Z"/>
<path class="l" d="M200.6,-62.0 Q183.3,0 200.6,62.0"/>
<ellipse class="l" cx="244.6" cy="-1.2" rx="18.6" ry="26.0"/>
<path class="t" d="M227.0,18.6 L244.6,24.8"/>
</g>
<g transform="translate(375.0,532.0) rotate(3)">
<path d="M0,-50.0 L195.0,-50.0 L195.0,50.0 L0,50.0 Q-11.0,0 0,-50.0 Z" style="fill:#3d3d3d;stroke:#333;stroke-width:1;vector-effect:non-scaling-stroke"/>
<path d="M7.0,-46.0 Q1.0,0 7.0,46.0 M20.9,-46.0 Q14.9,0 20.9,46.0 M34.8,-46.0 Q28.8,0 34.8,46.0 M48.8,-46.0 Q42.8,0 48.8,46.0 M62.7,-46.0 Q56.7,0 62.7,46.0 M76.6,-46.0 Q70.6,0 76.6,46.0 M90.5,-46.0 Q84.5,0 90.5,46.0 M104.5,-46.0 Q98.5,0 104.5,46.0 M118.4,-46.0 Q112.4,0 118.4,46.0 M132.3,-46.0 Q126.3,0 132.3,46.0 M146.2,-46.0 Q140.2,0 146.2,46.0 M160.2,-46.0 Q154.2,0 160.2,46.0 M174.1,-46.0 Q168.1,0 174.1,46.0 M188.0,-46.0 Q182.0,0 188.0,46.0" style="fill:none;stroke:#c8c8c8;stroke-width:0.55;vector-effect:non-scaling-stroke"/>
<path d="M0,-17.5 L195.0,-17.5 M0,20.0 L195.0,20.0" style="fill:none;stroke:#9a9a9a;stroke-width:0.5;stroke-dasharray:1.5 2;vector-effect:non-scaling-stroke"/>
<path class="f" d="M195.0,-70.0 Q175.4,0 195.0,70.0 L210.4,70.0 Q282.4,66.5 287.0,17.5 L287.0,-24.5 Q277.8,-68.6 210.4,-70.0 Z"/>
<path class="l" d="M210.4,-70.0 Q190.8,0 210.4,70.0"/>
<ellipse class="l" cx="261.2" cy="-1.4" rx="21.0" ry="29.4"/>
<path class="t" d="M241.0,21.0 L261.2,28.0"/>
</g>
<g transform="translate(525.0,950.0) rotate(3)">
<path d="M0,-46.0 L174.0,-46.0 L174.0,46.0 L0,46.0 Q-10.1,0 0,-46.0 Z" style="fill:#3d3d3d;stroke:#333;stroke-width:1;vector-effect:non-scaling-stroke"/>
<path d="M6.2,-42.3 Q0.7,0 6.2,42.3 M18.6,-42.3 Q13.1,0 18.6,42.3 M31.1,-42.3 Q25.6,0 31.1,42.3 M43.5,-42.3 Q38.0,0 43.5,42.3 M55.9,-42.3 Q50.4,0 55.9,42.3 M68.4,-42.3 Q62.8,0 68.4,42.3 M80.8,-42.3 Q75.3,0 80.8,42.3 M93.2,-42.3 Q87.7,0 93.2,42.3 M105.6,-42.3 Q100.1,0 105.6,42.3 M118.1,-42.3 Q112.6,0 118.1,42.3 M130.5,-42.3 Q125.0,0 130.5,42.3 M142.9,-42.3 Q137.4,0 142.9,42.3 M155.4,-42.3 Q149.8,0 155.4,42.3 M167.8,-42.3 Q162.3,0 167.8,42.3" style="fill:none;stroke:#c8c8c8;stroke-width:0.55;vector-effect:non-scaling-stroke"/>
<path d="M0,-16.1 L174.0,-16.1 M0,18.4 L174.0,18.4" style="fill:none;stroke:#9a9a9a;stroke-width:0.5;stroke-dasharray:1.5 2;vector-effect:non-scaling-stroke"/>
<path class="f" d="M174.0,-62.0 Q156.6,0 174.0,62.0 L187.6,62.0 Q250.0,58.9 254.0,15.5 L254.0,-21.7 Q246.0,-60.8 187.6,-62.0 Z"/>
<path class="l" d="M187.6,-62.0 Q170.3,0 187.6,62.0"/>
<ellipse class="l" cx="231.6" cy="-1.2" rx="18.6" ry="26.0"/>
<path class="t" d="M214.0,18.6 L231.6,24.8"/>
</g>
<g transform="translate(470.0,990.0) rotate(3)">
<path d="M0,-50.0 L182.0,-50.0 L182.0,50.0 L0,50.0 Q-11.0,0 0,-50.0 Z" style="fill:#3d3d3d;stroke:#333;stroke-width:1;vector-effect:non-scaling-stroke"/>
<path d="M7.0,-46.0 Q1.0,0 7.0,46.0 M21.0,-46.0 Q15.0,0 21.0,46.0 M35.0,-46.0 Q29.0,0 35.0,46.0 M49.0,-46.0 Q43.0,0 49.0,46.0 M63.0,-46.0 Q57.0,0 63.0,46.0 M77.0,-46.0 Q71.0,0 77.0,46.0 M91.0,-46.0 Q85.0,0 91.0,46.0 M105.0,-46.0 Q99.0,0 105.0,46.0 M119.0,-46.0 Q113.0,0 119.0,46.0 M133.0,-46.0 Q127.0,0 133.0,46.0 M147.0,-46.0 Q141.0,0 147.0,46.0 M161.0,-46.0 Q155.0,0 161.0,46.0 M175.0,-46.0 Q169.0,0 175.0,46.0" style="fill:none;stroke:#c8c8c8;stroke-width:0.55;vector-effect:non-scaling-stroke"/>
<path d="M0,-17.5 L182.0,-17.5 M0,20.0 L182.0,20.0" style="fill:none;stroke:#9a9a9a;stroke-width:0.5;stroke-dasharray:1.5 2;vector-effect:non-scaling-stroke"/>
<path class="f" d="M182.0,-70.0 Q162.4,0 182.0,70.0 L197.4,70.0 Q269.4,66.5 274.0,17.5 L274.0,-24.5 Q264.8,-68.6 197.4,-70.0 Z"/>
<path class="l" d="M197.4,-70.0 Q177.8,0 197.4,70.0"/>
<ellipse class="l" cx="248.2" cy="-1.4" rx="21.0" ry="29.4"/>
<path class="t" d="M228.0,21.0 L248.2,28.0"/>
</g>
<g transform="translate(550.0,1112.0) rotate(3)">
<path d="M0,-46.0 L182.0,-46.0 L182.0,46.0 L0,46.0 Q-10.1,0 0,-46.0 Z" style="fill:#3d3d3d;stroke:#333;stroke-width:1;vector-effect:non-scaling-stroke"/>
<path d="M6.5,-42.3 Q1.0,0 6.5,42.3 M19.5,-42.3 Q14.0,0 19.5,42.3 M32.5,-42.3 Q27.0,0 32.5,42.3 M45.5,-42.3 Q40.0,0 45.5,42.3 M58.5,-42.3 Q53.0,0 58.5,42.3 M71.5,-42.3 Q66.0,0 71.5,42.3 M84.5,-42.3 Q79.0,0 84.5,42.3 M97.5,-42.3 Q92.0,0 97.5,42.3 M110.5,-42.3 Q105.0,0 110.5,42.3 M123.5,-42.3 Q118.0,0 123.5,42.3 M136.5,-42.3 Q131.0,0 136.5,42.3 M149.5,-42.3 Q144.0,0 149.5,42.3 M162.5,-42.3 Q157.0,0 162.5,42.3 M175.5,-42.3 Q170.0,0 175.5,42.3" style="fill:none;stroke:#c8c8c8;stroke-width:0.55;vector-effect:non-scaling-stroke"/>
<path d="M0,-16.1 L182.0,-16.1 M0,18.4 L182.0,18.4" style="fill:none;stroke:#9a9a9a;stroke-width:0.5;stroke-dasharray:1.5 2;vector-effect:non-scaling-stroke"/>
<path class="f" d="M182.0,-62.0 Q164.6,0 182.0,62.0 L195.6,62.0 Q258.0,58.9 262.0,15.5 L262.0,-21.7 Q254.0,-60.8 195.6,-62.0 Z"/>
<path class="l" d="M195.6,-62.0 Q178.3,0 195.6,62.0"/>
<ellipse class="l" cx="239.6" cy="-1.2" rx="18.6" ry="26.0"/>
<path class="t" d="M222.0,18.6 L239.6,24.8"/>
</g>
<g transform="translate(495.0,1152.0) rotate(3)">
<path d="M0,-50.0 L190.0,-50.0 L190.0,50.0 L0,50.0 Q-11.0,0 0,-50.0 Z" style="fill:#3d3d3d;stroke:#333;stroke-width:1;vector-effect:non-scaling-stroke"/>
<path d="M6.8,-46.0 Q0.8,0 6.8,46.0 M20.4,-46.0 Q14.4,0 20.4,46.0 M33.9,-46.0 Q27.9,0 33.9,46.0 M47.5,-46.0 Q41.5,0 47.5,46.0 M61.1,-46.0 Q55.1,0 61.1,46.0 M74.6,-46.0 Q68.6,0 74.6,46.0 M88.2,-46.0 Q82.2,0 88.2,46.0 M101.8,-46.0 Q95.8,0 101.8,46.0 M115.4,-46.0 Q109.4,0 115.4,46.0 M128.9,-46.0 Q122.9,0 128.9,46.0 M142.5,-46.0 Q136.5,0 142.5,46.0 M156.1,-46.0 Q150.1,0 156.1,46.0 M169.6,-46.0 Q163.6,0 169.6,46.0 M183.2,-46.0 Q177.2,0 183.2,46.0" style="fill:none;stroke:#c8c8c8;stroke-width:0.55;vector-effect:non-scaling-stroke"/>
<path d="M0,-17.5 L190.0,-17.5 M0,20.0 L190.0,20.0" style="fill:none;stroke:#9a9a9a;stroke-width:0.5;stroke-dasharray:1.5 2;vector-effect:non-scaling-stroke"/>
<path class="f" d="M190.0,-70.0 Q170.4,0 190.0,70.0 L205.4,70.0 Q277.4,66.5 282.0,17.5 L282.0,-24.5 Q272.8,-68.6 205.4,-70.0 Z"/>
<path class="l" d="M205.4,-70.0 Q185.8,0 205.4,70.0"/>
<ellipse class="l" cx="256.2" cy="-1.4" rx="21.0" ry="29.4"/>
<path class="t" d="M236.0,21.0 L256.2,28.0"/>
</g>
</g>

<text transform="translate(1122,1147.5) rotate(94) scale(0.96,1)" font-size="57" text-anchor="start" class="big">2</text>
<text transform="translate(1111.5,1453.5) rotate(94) scale(0.96,1)" font-size="59" text-anchor="start" class="big">B</text>
<text transform="translate(860.5,1621.5) rotate(94) scale(0.96,1)" font-size="59" text-anchor="start" class="big">H</text>
<path class="t" d="M857.7,1553.0 L874.6,1617.2" />
<path class="l" d="M621.4,1329.0 L735.0,1266.0 Q757.5,1245.8 791.3,1246.9 Q836.3,1250.3 872.3,1263.8 Q885.8,1275.0 889.2,1304.3 L892.6,1342.5" />
<path class="l" d="M621.4,1329.0 Q618.0,1342.5 619.1,1360.5 Q620.3,1376.3 636.0,1392.0 M621.4,1330.2 L659.6,1368.4 Q657.4,1374.0 659.6,1379.0 L672.0,1407.8 M659.6,1368.4 L875.7,1267.1 M636.0,1392.0 Q656.3,1410.0 672.0,1407.8 L705.8,1392.0 L858.8,1305.4 Q863.8,1306.5 864.7,1311.5" />
<path class="l" d="M636.0,1393.2 L633.8,1403.3" />
<path class="l" d="M633.8,1403.3 L695.6,1577.8 Q699.0,1584.5 703.5,1586.8 L731.7,1598.1" />
<path class="l" d="M672.0,1407.8 L731.7,1598.1 L741.8,1625.1" />
<path class="l" d="M705.8,1392.0 L746.3,1550.8 Q750.8,1562.5 760.2,1560.9 L844.2,1488.9" />
<path class="l" d="M731.7,1598.1 L762.0,1563.2 M703.5,1586.8 Q701.3,1602.6 710.3,1613.8 L741.8,1625.1 L798.1,1559.8 Q798.1,1553.0 816.1,1537.3 L848.7,1508.0" />
<path class="l" d="M886.4,1290.0 L889.1,1308.0 L895.4,1371.0 L899.0,1434.0 M868.4,1323.8 L888.2,1308.0 M869.3,1325.6 L888.7,1310.0 M873.8,1341.8 L890.0,1325.1 M874.5,1343.6 L890.5,1327.1 M887.8,1407.9 L896.8,1402.5 M888.2,1410.2 L897.0,1404.8 M890.0,1423.2 L897.7,1417.8 M890.4,1425.5 L897.9,1420.1 M862.1,1308.0 L863.0,1319.7 M857.6,1305.3 L874.7,1290.0" />
<ellipse class="t" cx="794.6751288456778" cy="1334.651947876578" rx="1.8" ry="3.6" transform="rotate(8 794.6751288456778 1334.651947876578)" />
<ellipse class="t" cx="805.252852609547" cy="1330.1507888281233" rx="1.8" ry="3.6" transform="rotate(8 805.252852609547 1330.1507888281233)" />
<ellipse class="t" cx="799.851461751401" cy="1372.2366259311773" rx="1.8" ry="3.6" transform="rotate(8 799.851461751401 1372.2366259311773)" />
<ellipse class="t" cx="810.8793014201157" cy="1366.6101771206086" rx="1.8" ry="3.6" transform="rotate(8 810.8793014201157 1366.6101771206086)" />
<ellipse class="t" cx="819.4315036121801" cy="1468.561429568114" rx="1.8" ry="3.6" transform="rotate(8 819.4315036121801 1468.561429568114)" />
<ellipse class="t" cx="827.3085319469764" cy="1461.8096909954313" rx="1.8" ry="3.6" transform="rotate(8 827.3085319469764 1461.8096909954313)" />
<ellipse class="t" cx="825.7331262800171" cy="1501.1948326694123" rx="1.8" ry="3.6" transform="rotate(8 825.7331262800171 1501.1948326694123)" />
<ellipse class="t" cx="834.0602705196588" cy="1495.5683838588436" rx="1.8" ry="3.6" transform="rotate(8 834.0602705196588 1495.5683838588436)" />
<circle class="t" cx="803.6774469425877" cy="1385.7401030765423" r="3" />
<path class="k" d="M805.5,1385.7 L809.5,1383.9 L809.5,1387.5 Z" />
<circle class="t" cx="701.276078590237" cy="1451.0069092791393" r="3" />
<path class="k" d="M703.1,1451.0 L707.1,1449.2 L707.1,1452.8 Z" />
<circle class="t" cx="821.2319672315621" cy="1448.7563297549118" r="3" />
<path class="k" d="M823.0,1448.8 L827.1,1447.0 L827.1,1450.6 Z" />
<circle class="t" cx="723.3317579276663" cy="1535.7099453109176" r="3" />
<path class="k" d="M725.1,1535.7 L729.2,1533.9 L729.2,1537.5 Z" />
<path class="t" d="M805.9,1385.7 L1019.4,1395.0" />
<path class="t" d="M703.5,1451.0 L1011.6,1462.5 M822.8,1448.8 L1027.3,1452.4" />
<path class="t" d="M726.0,1535.7 L994.7,1548.1" />
<path class="l" d="M800.0,1525.5 L845.0,1489.5 M800.0,1557.1 L851.8,1518.8" />
<path class="b" d="M808.6,1319.7 Q809.0,1316.1 813.5,1316.1 L823.4,1317.5 Q837.8,1319.7 852.2,1325.1 L855.8,1328.7 L853.1,1332.3 Q843.2,1340.4 829.7,1347.6 L820.7,1355.7 Q815.3,1357.5 813.1,1354.8 Q809.0,1335.0 808.6,1319.7 Z" style="fill:#fefefe"/>
<path class="l" d="M812.6,1321.5 Q813.1,1319.3 815.8,1319.3 L823.9,1321.1 Q826.1,1326.0 827.0,1335.0 Q827.5,1340.4 827.0,1344.9 L819.4,1352.1 Q816.2,1353.0 815.5,1350.3 Q812.6,1333.2 812.6,1321.5 Z M825.7,1319.7 Q838.7,1321.5 853.1,1328.7 Q843.2,1338.6 828.8,1346.3 M827.0,1322.0 Q838.7,1323.8 850.4,1328.7 Q842.3,1336.8 829.3,1343.8 M814.9,1332.3 L826.6,1330.5 M815.3,1338.6 L827.0,1336.4" />
<path class="f" d="M852.2,1325.1 L857.6,1321.1 L863.0,1320.2 L866.2,1325.1 L864.8,1330.5 L855.8,1333.2" />
<path class="l" d="M866.6,1326.0 L892.3,1458.0 M871.1,1326.0 L899.0,1455.8 M867.5,1344.0 L880.1,1425.0" />
<path class="b" d="M937.3,1391.6 Q932.8,1417.5 917.0,1428.8 Q894.5,1449.0 867.5,1458.0 Q849.5,1460.3 840.5,1449.0 Q833.8,1446.3 829.3,1455.8 L831.5,1467.0 Q849.5,1496.3 851.8,1534.5 L856.3,1550.3 Q863.0,1548.1 865.3,1541.3 Q874.3,1516.5 899.0,1503.0 Q926.0,1494.0 944.0,1472.7 L950.3,1471.5 L953.0,1435.5 L949.7,1424.3 L942.9,1392.8" style="fill:#fefefe"/>
<circle class="b" cx="939.5359305021043" cy="1386.0092723876398" r="3.6" />
<path class="l" d="M833.8,1471.5 Q850.6,1498.5 855.8,1530.0 M867.5,1536.8 Q877.6,1515.4 901.3,1500.3" />
<path class="l" d="M855.1,1494.0 Q858.5,1478.3 878.8,1468.2 L926.0,1442.3 M853.6,1503.0 Q856.3,1515.4 865.3,1513.2 Q878.8,1505.3 899.0,1494.0 M857.4,1491.8 Q864.1,1481.7 881.0,1472.7 M856.3,1505.3 Q858.5,1512.0 865.3,1509.8 Q878.8,1503.0 896.8,1491.3" />
<path class="l" d="M899.0,1455.8 L927.2,1440.0 L932.8,1476.0 L905.8,1497.4 Z" />
<circle class="l" cx="914.7795557356019" cy="1472.6565840703981" r="14" />
<circle class="b" cx="918.1554250219432" cy="1472.6565840703981" r="10" />
<circle class="l" cx="919.280714784057" cy="1472.6565840703981" r="7.5" />
<ellipse class="l" cx="884.3967321585308" cy="1474.9071635946257" rx="7" ry="11" transform="rotate(10 884.3967321585308 1474.9071635946257)" />
<ellipse class="l" cx="836.0092723876398" cy="1455.777237638692" rx="3.04" ry="3.8" transform="rotate(15 836.0092723876398 1455.777237638692)" />
<ellipse class="l" cx="855.1391983435735" cy="1472.6565840703981" rx="3.3600000000000003" ry="4.2" transform="rotate(15 855.1391983435735 1472.6565840703981)" />
<ellipse class="l" cx="865.2668062025972" cy="1512.0417257443792" rx="3.6799999999999997" ry="4.6" transform="rotate(15 865.2668062025972 1512.0417257443792)" />
<ellipse class="l" cx="858.9651835347602" cy="1541.749375464182" rx="3.04" ry="3.8" transform="rotate(15 858.9651835347602 1541.749375464182)" />
<ellipse class="l" cx="868.6426754889384" cy="1473.7818738325118" rx="1.2800000000000002" ry="1.6" transform="rotate(15 868.6426754889384 1473.7818738325118)" />
<ellipse class="l" cx="875.3944140616209" cy="1498.5382485990142" rx="1.2800000000000002" ry="1.6" transform="rotate(15 875.3944140616209 1498.5382485990142)" />
<ellipse class="l" cx="908.0278171629195" cy="1438.8978912069858" rx="3.8" ry="2.2" transform="rotate(-10 908.0278171629195 1438.8978912069858)" />
<ellipse class="l" cx="884.3967321585308" cy="1452.4013683523508" rx="3.4" ry="2" transform="rotate(-10 884.3967321585308 1452.4013683523508)" />
<ellipse class="l" cx="939.5359305021043" cy="1427.6449935858484" rx="5.5" ry="8" transform="rotate(-20 939.5359305021043 1427.6449935858484)" />
<path class="f" d="M892.3,1458.0 L902.4,1498.5 L911.4,1494.0 L899.0,1455.8" />
<path class="f" d="M927.2,1440.5 L946.7,1435.5 L949.0,1466.6 L935.0,1472.7 Q924.9,1458.0 927.2,1440.5 Z" />
<path class="f" d="M946.7,1435.1 L955.3,1432.1 L999.2,1440.0 Q1003.0,1455.8 999.2,1472.0 L989.0,1474.2 L948.5,1466.1 Q944.0,1451.3 946.7,1435.1 Z" />
<path class="l" d="M955.3,1440.0 L991.3,1446.3 M953.0,1449.0 L990.2,1454.7 M951.9,1458.0 L989.5,1463.0 M957.5,1435.1 L995.8,1442.3" style="stroke-width:2.4;stroke:#2a2a2a"/>
<ellipse class="l" cx="993.9999549884095" cy="1456.2273535435374" rx="5" ry="15" transform="rotate(4 993.9999549884095 1456.2273535435374)" />
<ellipse class="t" cx="993.549839083564" cy="1456.2273535435374" rx="1.8" ry="4" transform="rotate(4 993.549839083564 1456.2273535435374)" />
<path class="t" d="M1108.8,1467.8 L1072.8,1393.5" />
<path class="t" d="M1108.8,1467.8 L1090.0,1459.5" />
<path class="t" d="M1108.8,1467.8 L1063.0,1474.5" />
<path class="t" d="M1108.8,1467.8 L1049.5,1546.5" />
<g transform="translate(1000,1350) scale(0.150038)" >
<g transform="translate(125.0,310.0) rotate(2.5)">
<path d="M0,-65.0 L290.0,-65.0 L290.0,65.0 L0,65.0 Q-14.3,0 0,-65.0 Z" style="fill:#3d3d3d;stroke:#333;stroke-width:1;vector-effect:non-scaling-stroke"/>
<path d="M9.1,-59.8 Q1.3,0 9.1,59.8 M27.2,-59.8 Q19.4,0 27.2,59.8 M45.3,-59.8 Q37.5,0 45.3,59.8 M63.4,-59.8 Q55.6,0 63.4,59.8 M81.6,-59.8 Q73.8,0 81.6,59.8 M99.7,-59.8 Q91.9,0 99.7,59.8 M117.8,-59.8 Q110.0,0 117.8,59.8 M135.9,-59.8 Q128.1,0 135.9,59.8 M154.1,-59.8 Q146.3,0 154.1,59.8 M172.2,-59.8 Q164.4,0 172.2,59.8 M190.3,-59.8 Q182.5,0 190.3,59.8 M208.4,-59.8 Q200.6,0 208.4,59.8 M226.6,-59.8 Q218.8,0 226.6,59.8 M244.7,-59.8 Q236.9,0 244.7,59.8 M262.8,-59.8 Q255.0,0 262.8,59.8 M280.9,-59.8 Q273.1,0 280.9,59.8" style="fill:none;stroke:#c8c8c8;stroke-width:0.55;vector-effect:non-scaling-stroke"/>
<path d="M0,-22.8 L290.0,-22.8 M0,26.0 L290.0,26.0" style="fill:none;stroke:#9a9a9a;stroke-width:0.5;stroke-dasharray:1.5 2;vector-effect:non-scaling-stroke"/>
<path class="f" d="M290.0,-112.0 Q258.6,0 290.0,112.0 L314.6,112.0 Q432.5,106.4 440.0,28.0 L440.0,-39.2 Q425.0,-109.8 314.6,-112.0 Z"/>
<path class="l" d="M314.6,-112.0 Q283.3,0 314.6,112.0"/>
<ellipse class="l" cx="398.0" cy="-2.2" rx="33.6" ry="47.0"/>
<path class="t" d="M365.0,33.6 L398.0,44.8"/>
</g>
<g transform="translate(190.0,705.0) rotate(2.5)">
<path d="M0,-62.0 L280.0,-62.0 L280.0,62.0 L0,62.0 Q-13.6,0 0,-62.0 Z" style="fill:#3d3d3d;stroke:#333;stroke-width:1;vector-effect:non-scaling-stroke"/>
<path d="M8.8,-57.0 Q1.3,0 8.8,57.0 M26.2,-57.0 Q18.8,0 26.2,57.0 M43.8,-57.0 Q36.3,0 43.8,57.0 M61.2,-57.0 Q53.8,0 61.2,57.0 M78.8,-57.0 Q71.3,0 78.8,57.0 M96.2,-57.0 Q88.8,0 96.2,57.0 M113.8,-57.0 Q106.3,0 113.8,57.0 M131.2,-57.0 Q123.8,0 131.2,57.0 M148.8,-57.0 Q141.3,0 148.8,57.0 M166.2,-57.0 Q158.8,0 166.2,57.0 M183.8,-57.0 Q176.3,0 183.8,57.0 M201.2,-57.0 Q193.8,0 201.2,57.0 M218.8,-57.0 Q211.3,0 218.8,57.0 M236.2,-57.0 Q228.8,0 236.2,57.0 M253.8,-57.0 Q246.3,0 253.8,57.0 M271.2,-57.0 Q263.8,0 271.2,57.0" style="fill:none;stroke:#c8c8c8;stroke-width:0.55;vector-effect:non-scaling-stroke"/>
<path d="M0,-21.7 L280.0,-21.7 M0,24.8 L280.0,24.8" style="fill:none;stroke:#9a9a9a;stroke-width:0.5;stroke-dasharray:1.5 2;vector-effect:non-scaling-stroke"/>
<path class="f" d="M280.0,-95.0 Q253.4,0 280.0,95.0 L300.9,95.0 Q408.2,90.2 415.0,23.8 L415.0,-33.2 Q401.5,-93.1 300.9,-95.0 Z"/>
<path class="l" d="M300.9,-95.0 Q274.3,0 300.9,95.0"/>
<ellipse class="l" cx="377.2" cy="-1.9" rx="28.5" ry="39.9"/>
<path class="t" d="M347.5,28.5 L377.2,38.0"/>
</g>
<g transform="translate(80.0,778.0) rotate(2.5)">
<path d="M0,-72.0 L285.0,-72.0 L285.0,72.0 L0,72.0 Q-15.8,0 0,-72.0 Z" style="fill:#3d3d3d;stroke:#333;stroke-width:1;vector-effect:non-scaling-stroke"/>
<path d="M10.2,-66.2 Q1.5,0 10.2,66.2 M30.5,-66.2 Q21.9,0 30.5,66.2 M50.9,-66.2 Q42.3,0 50.9,66.2 M71.2,-66.2 Q62.6,0 71.2,66.2 M91.6,-66.2 Q83.0,0 91.6,66.2 M112.0,-66.2 Q103.3,0 112.0,66.2 M132.3,-66.2 Q123.7,0 132.3,66.2 M152.7,-66.2 Q144.0,0 152.7,66.2 M173.0,-66.2 Q164.4,0 173.0,66.2 M193.4,-66.2 Q184.8,0 193.4,66.2 M213.8,-66.2 Q205.1,0 213.8,66.2 M234.1,-66.2 Q225.5,0 234.1,66.2 M254.5,-66.2 Q245.8,0 254.5,66.2 M274.8,-66.2 Q266.2,0 274.8,66.2" style="fill:none;stroke:#c8c8c8;stroke-width:0.55;vector-effect:non-scaling-stroke"/>
<path d="M0,-25.2 L285.0,-25.2 M0,28.8 L285.0,28.8" style="fill:none;stroke:#9a9a9a;stroke-width:0.5;stroke-dasharray:1.5 2;vector-effect:non-scaling-stroke"/>
<path class="f" d="M285.0,-118.0 Q252.0,0 285.0,118.0 L311.0,118.0 Q427.5,112.1 435.0,29.5 L435.0,-41.3 Q420.0,-115.6 311.0,-118.0 Z"/>
<path class="l" d="M311.0,-118.0 Q277.9,0 311.0,118.0"/>
<ellipse class="l" cx="393.0" cy="-2.4" rx="35.4" ry="49.6"/>
<path class="t" d="M360.0,35.4 L393.0,47.2"/>
</g>
</g>

<g transform="translate(800,1350) scale(0.225058)" >
<g transform="translate(865.0,880.0) rotate(2.5)">
<path d="M0,-45.0 L185.0,-45.0 L185.0,45.0 L0,45.0 Q-9.9,0 0,-45.0 Z" style="fill:#3d3d3d;stroke:#333;stroke-width:1;vector-effect:non-scaling-stroke"/>
<path d="M6.2,-41.4 Q0.8,0 6.2,41.4 M18.5,-41.4 Q13.1,0 18.5,41.4 M30.8,-41.4 Q25.4,0 30.8,41.4 M43.2,-41.4 Q37.8,0 43.2,41.4 M55.5,-41.4 Q50.1,0 55.5,41.4 M67.8,-41.4 Q62.4,0 67.8,41.4 M80.2,-41.4 Q74.8,0 80.2,41.4 M92.5,-41.4 Q87.1,0 92.5,41.4 M104.8,-41.4 Q99.4,0 104.8,41.4 M117.2,-41.4 Q111.8,0 117.2,41.4 M129.5,-41.4 Q124.1,0 129.5,41.4 M141.8,-41.4 Q136.4,0 141.8,41.4 M154.2,-41.4 Q148.8,0 154.2,41.4 M166.5,-41.4 Q161.1,0 166.5,41.4 M178.8,-41.4 Q173.4,0 178.8,41.4" style="fill:none;stroke:#c8c8c8;stroke-width:0.55;vector-effect:non-scaling-stroke"/>
<path d="M0,-15.7 L185.0,-15.7 M0,18.0 L185.0,18.0" style="fill:none;stroke:#9a9a9a;stroke-width:0.5;stroke-dasharray:1.5 2;vector-effect:non-scaling-stroke"/>
<path class="f" d="M185.0,-76.0 Q163.7,0 185.0,76.0 L201.7,76.0 Q284.8,72.2 290.0,19.0 L290.0,-26.6 Q279.5,-74.5 201.7,-76.0 Z"/>
<path class="l" d="M201.7,-76.0 Q180.4,0 201.7,76.0"/>
<ellipse class="l" cx="260.6" cy="-1.5" rx="22.8" ry="31.9"/>
<path class="t" d="M237.5,22.8 L260.6,30.4"/>
</g>
</g>

<text transform="translate(559,1121) rotate(94) scale(0.96,1)" font-size="58" text-anchor="start" class="big">4</text>
<text transform="translate(331.5,1102) rotate(94) scale(0.82,1)" font-size="61" text-anchor="start" class="big">B</text>
<text transform="translate(338,1191) rotate(94) scale(0.91,1)" font-size="58" text-anchor="start" class="big">C</text>
<text transform="translate(315.5,1622) rotate(94) scale(0.88,1)" font-size="58" text-anchor="start" class="big">C</text>
<text transform="translate(318.5,1709.5) rotate(94) scale(0.82,1)" font-size="62" text-anchor="start" class="big">B</text>
<path class="t" d="M265.3,1240.9 L264.1,1275.8 M296.8,1240.9 L295.6,1278.1" />
<path class="t" d="M247.4,1607.5 L254.2,1483.8 M277.8,1606.4 L284.5,1474.8" />
<path class="k" d="M254.4,1480.4 L252.1,1487.1 L256.6,1487.4 Z M284.8,1471.4 L282.5,1478.1 L287.0,1478.4 Z" />
<path class="l" d="M300.0,1288.4 L367.5,1270.4 L435.0,1267.0 Q457.5,1271.5 480.0,1283.9 Q513.8,1300.8 547.6,1307.5 Q567.8,1316.5 570.1,1341.3 L568.9,1379.5 Q565.6,1397.5 547.6,1404.3 Q513.8,1408.8 480.0,1417.8 Q466.5,1422.3 457.5,1438.1 Q448.5,1456.1 439.5,1465.1 Q423.8,1476.3 408.0,1469.6 Q385.5,1453.8 363.0,1448.2 Q333.8,1447.1 300.0,1461.7" style="stroke-width:1.6"/>
<path class="l" d="M300.0,1291.3 L367.5,1273.3 L435.0,1269.9 Q457.5,1274.2 478.9,1286.6 Q512.7,1303.5 546.4,1310.2 Q565.1,1318.8 567.4,1341.3 L566.2,1379.1 Q563.3,1395.3 546.4,1401.6 Q512.7,1406.1 478.9,1415.1 Q464.3,1420.0 455.3,1436.3 Q446.3,1453.8 437.7,1462.8 Q423.8,1473.2 409.2,1466.9 Q386.6,1451.1 363.5,1445.3 Q333.8,1444.1 300.0,1458.8" />
<path class="t" d="M300.0,1294.5 L367.5,1276.5 L435.0,1272.9 Q455.3,1276.0 466.5,1285.0 M444.0,1456.1 Q453.0,1442.6 455.3,1433.5 Q462.0,1417.8 477.8,1412.2 M300.0,1455.6 L333.8,1441.4 Q358.5,1440.3 385.5,1449.3" />
<path class="l" d="M300.0,1300.8 L367.5,1288.4 L435.0,1286.1 Q453.0,1282.8 453.0,1276.0 Q450.8,1269.3 435.0,1269.9 M300.0,1304.1 L367.5,1291.8 L437.3,1289.1 Q457.5,1286.1 466.5,1285.0 Q473.3,1296.3 462.0,1300.8 L401.3,1303.0 L300.0,1307.5 M363.0,1278.3 L365.3,1290.6" />
<path class="l" d="M300.0,1323.3 L381.0,1319.9 L388.9,1305.3 M300.0,1408.8 L379.9,1405.4 L394.5,1417.8 L444.0,1456.1 M300.0,1420.0 L394.5,1417.8 L462.0,1413.3 M347.3,1323.3 L328.1,1363.8 L347.3,1404.3 M401.3,1304.1 L370.9,1362.7 L400.2,1417.8 M430.5,1317.6 L410.3,1361.5 L435.0,1407.7 M430.5,1317.6 L439.5,1305.3 L462.0,1300.8" />
<path class="l" d="M435.0,1316.5 Q437.3,1309.8 446.3,1309.8 L484.5,1323.3 Q491.3,1325.5 493.5,1334.5 L495.8,1348.0 Q493.5,1357.5 484.5,1357.0 L444.0,1348.5 Q435.0,1345.8 434.6,1336.8 Z M442.2,1318.8 Q443.1,1314.3 448.5,1315.4 L480.0,1326.6 Q484.5,1328.2 485.7,1333.4 L486.8,1342.4 Q485.9,1345.8 481.2,1345.3 L448.5,1340.8 Q442.9,1339.5 442.5,1334.5 Z M444.0,1339.0 Q446.3,1343.5 450.8,1344.0 L482.3,1348.5" />
<path class="l" d="M435.0,1381.8 Q437.3,1375.0 446.3,1373.9 L482.3,1368.3 Q493.5,1368.3 493.1,1377.3 L489.0,1395.3 Q486.8,1399.8 480.0,1400.9 L446.3,1412.2 Q437.3,1413.3 436.2,1404.3 Z M441.8,1384.0 Q443.1,1380.0 448.5,1379.5 L480.0,1374.6 Q486.3,1374.6 485.7,1379.5 L482.7,1391.2 Q481.4,1394.8 476.7,1395.7 L449.7,1405.4 Q443.6,1406.1 442.7,1400.9 Z M444.0,1402.0 Q448.5,1404.3 453.0,1402.5 L480.0,1393.0" />
<path class="l" d="M229.3,1261.2 Q290.0,1260.0 308.0,1270.2 M267.5,1311.8 L300.2,1303.9 M267.5,1315.2 L300.2,1307.3 M265.3,1324.2 L300.2,1323.1" />
<path class="l" d="M299.9,1288.3 L271.6,1297.5 M299.9,1291.2 L269.3,1307.6 M299.9,1294.4 L268.2,1311.0" />
<path class="l" d="M303.1,1324.5 L286.2,1367.3 L307.6,1410.0 M249.0,1352.7 L242.3,1368.4 L263.7,1412.3 M217.5,1322.3 L299.9,1323.2" />
<path class="l" d="M213.0,1417.9 L299.9,1409.4 M213.0,1428.1 L299.9,1420.4" />
<path class="l" d="M213.0,1430.3 Q217.5,1455.1 231.0,1468.6 Q251.3,1479.8 285.1,1466.3 L299.9,1461.6 M216.4,1430.3 Q220.9,1452.8 233.3,1465.2 Q251.3,1475.8 283.9,1462.9 L299.9,1458.7" style="stroke-width:1.6"/>
<path class="t" d="M219.8,1430.3 Q224.3,1450.6 235.5,1461.8 Q251.3,1471.9 282.8,1459.6 L299.9,1455.5" />
<path class="l" d="M225.4,1261.5 L320.0,1268.9 M268.3,1294.5 L320.0,1281.3 M268.3,1296.9 L320.0,1284.6 M270.0,1311.0 L320.0,1299.4 M270.0,1313.4 L320.0,1301.9 M268.3,1324.2 L320.0,1320.9" />
<path class="l" d="M227.1,1264.8 L265.0,1265.1 L303.0,1273.0 Q308.3,1276.6 303.0,1280.6 L281.5,1284.6 L279.9,1281.3 L248.5,1279.6 L237.0,1273.0 M232.0,1268.1 L294.8,1273.3" />
<circle class="t" cx="275.77157946855914" cy="1277.6299719425647" r="1.2" />
<path class="l" d="M172.6,1261.5 L177.6,1281.3 M175.1,1261.1 L180.0,1280.9 M179.2,1264.8 L185.8,1271.4 L189.1,1266.4 M169.3,1276.3 L162.7,1296.1 M171.8,1277.1 L165.2,1296.9 M166.0,1289.5 L192.4,1289.5 M174.3,1284.6 L192.4,1286.2 M182.5,1279.6 L185.8,1289.5" />
<path class="f" d="M194.1,1263.1 L194.9,1273.0 Q200.7,1277.1 205.6,1275.5 L213.9,1269.7" />
<ellipse class="f" cx="203.97755405182374" cy="1261.4556857567256" rx="10" ry="6.6" transform="rotate(0 203.97755405182374 1261.4556857567256)" />
<ellipse class="l" cx="203.97755405182374" cy="1261.4556857567256" rx="6.6" ry="4.2" transform="rotate(0 203.97755405182374 1261.4556857567256)" />
<ellipse class="l" cx="203.97755405182374" cy="1261.4556857567256" rx="2.6" ry="1.7" transform="rotate(0 203.97755405182374 1261.4556857567256)" />
<path class="f" d="M215.5,1268.1 Q223.8,1258.2 227.1,1264.8 L222.1,1271.4 Q207.3,1278.0 199.0,1289.5 L194.1,1287.9 Q199.0,1276.3 215.5,1268.1 Z" style="stroke-width:1.8"/>
<path class="f" d="M195.7,1289.5 Q207.3,1279.6 232.0,1278.8 L251.8,1281.3 L248.5,1284.6 L232.0,1283.2 Q215.5,1284.6 205.6,1292.8 Z" style="stroke-width:1.8"/>
<path class="l" d="M213.9,1273.0 L218.8,1278.0 L222.1,1275.5 M208.9,1278.0 L213.9,1281.3" />
<path class="f" d="M131.4,1296.9 L166.0,1298.6 L248.5,1297.8 L245.2,1319.2 L169.3,1317.6 L152.8,1317.6 L130.5,1312.6 Q128.1,1306.0 131.4,1296.9 Z" />
<path class="l" d="M152.0,1297.8 L152.8,1317.6 M167.7,1298.8 L169.3,1317.6 M130.5,1312.6 L133.0,1316.7 L149.5,1318.6 L152.8,1317.6 M129.7,1309.3 L151.2,1313.4" />
<path class="l" d="M112.4,1287.9 Q113.2,1283.7 118.2,1285.4 Q123.1,1289.5 121.5,1292.8 Q116.5,1294.5 113.2,1292.0 Z M111.6,1296.9 Q113.2,1292.8 118.2,1293.6 Q124.8,1297.8 126.4,1304.4 L130.5,1308.5 M111.6,1296.9 Q112.4,1302.7 118.2,1303.5 L126.4,1304.4 M121.5,1292.8 L130.5,1302.7" style="stroke-width:1.8"/>
<path class="l" d="M237.0,1294.5 Q240.3,1292.8 241.9,1296.1 L242.8,1302.7 Q240.3,1305.2 237.8,1303.5 Z M242.8,1298.6 L250.2,1298.9" />
<path class="t" d="M137.1,1317.6 L138.8,1349.9 M141.3,1317.9 L142.9,1349.9 M149.5,1319.2 L144.6,1349.9" />
<path class="l" d="M212.2,1319.2 L222.1,1332.4 L218.8,1349.9" />
<path class="f" d="M258.4,1273.0 Q268.7,1271.4 268.7,1289.5 Q270.0,1319.2 258.4,1345.6 Q253.5,1352.2 248.5,1345.6 Q243.6,1339.0 248.5,1319.2 Q253.5,1297.8 256.8,1275.5 Z" style="stroke-width:1.8"/>
<path class="l" d="M262.6,1275.0 Q265.0,1297.8 258.4,1325.8 Q255.1,1339.0 253.5,1347.3 M259.8,1275.5 Q258.4,1297.8 252.7,1319.2 Q248.5,1335.7 251.0,1345.6" />
<path class="l" d="M150.0,1316.6 L127.5,1398.8 Q172.5,1392.0 199.5,1374.0 Q222.0,1356.0 222.5,1327.2 L217.5,1320.0 M130.9,1401.5 Q174.8,1394.7 202.2,1376.7 Q225.4,1358.3 225.4,1329.0" />
<path class="t" d="M147.8,1403.3 Q165.8,1403.3 181.5,1396.5 L186.0,1387.5" />
<path class="l" d="M127.5,1401.0 L127.5,1530.0 M127.5,1425.8 Q161.3,1432.6 186.0,1419.0 L195.0,1387.5 M127.5,1429.2 Q161.3,1435.9 187.2,1422.4 M127.5,1442.7 Q161.3,1450.6 184.9,1438.2 M186.0,1419.0 L181.5,1477.6 L190.5,1504.6 Q168.0,1522.6 134.3,1516.9 M195.0,1378.5 Q204.0,1410.0 199.5,1455.1 L195.0,1530.0 M204.0,1376.3 Q210.8,1410.0 206.3,1455.1 L204.0,1486.6 L226.5,1530.0 M208.5,1419.0 Q209.7,1443.8 207.4,1455.1" />
<path class="k" d="M96.0,1405.5 L126.4,1404.6 L126.4,1429.9 L97.1,1430.8 Q93.8,1417.9 96.0,1405.5 Z" style="fill:#555"/>
<path class="t" d="M97.1,1408.9 L125.7,1408.2 M97.1,1412.7 L125.7,1412.1 M97.1,1416.6 L125.7,1415.9 M97.1,1420.4 L125.7,1419.7 M97.1,1424.2 L125.7,1423.5 M97.1,1427.6 L125.7,1426.9" style="stroke:#cfcfcf;stroke-width:0.7"/>
<path class="l" d="M129.3,1450.0 L132.6,1515.3 Q133.8,1544.5 145.0,1558.0 Q167.5,1562.5 208.0,1555.8 Q226.0,1549.0 229.4,1537.8 Q228.3,1517.5 212.5,1495.0 L205.8,1477.0 M132.6,1515.3 Q167.5,1524.3 194.5,1510.8 M133.8,1520.9 Q167.5,1529.9 196.8,1515.3 M133.8,1533.3 Q167.5,1542.3 199.0,1524.3 L205.8,1477.0 M134.9,1538.9 Q167.5,1547.9 200.2,1528.8 M178.8,1450.0 L181.0,1479.3 L194.5,1508.5 M199.0,1450.0 Q196.8,1483.8 199.0,1524.3" />
<path class="l" d="M228.3,1537.8 L255.3,1537.8 M228.3,1554.7 L248.5,1555.8 L248.5,1561.4" />
<path class="f" d="M267.7,1507.4 Q278.2,1508.5 276.9,1540.0 Q273.3,1576.0 257.5,1587.3 Q248.5,1585.0 253.0,1558.0 Q257.5,1517.5 267.7,1507.4 Z" />
<path class="t" d="M266.5,1515.3 Q272.2,1540.0 264.3,1567.0 Q260.9,1578.3 256.4,1582.8 M257.5,1528.8 L255.3,1558.0" />
<ellipse class="f" cx="265.2668062025972" cy="1230.5883645038596" rx="18.5" ry="10.5" transform="rotate(0 265.2668062025972 1230.5883645038596)" />
<ellipse class="f" cx="265.2668062025972" cy="1228.9883645038597" rx="18.5" ry="10.5" transform="rotate(0 265.2668062025972 1228.9883645038597)" />
<ellipse class="l" cx="265.2668062025972" cy="1229.4883645038597" rx="6.66" ry="4.2" transform="rotate(0 265.2668062025972 1229.4883645038597)" />
<ellipse class="f" cx="300.15078882812327" cy="1230.5883645038596" rx="17.5" ry="10" transform="rotate(0 300.15078882812327 1230.5883645038596)" />
<ellipse class="f" cx="300.15078882812327" cy="1228.9883645038597" rx="17.5" ry="10" transform="rotate(0 300.15078882812327 1228.9883645038597)" />
<ellipse class="l" cx="300.15078882812327" cy="1229.4883645038597" rx="6.3" ry="4.0" transform="rotate(0 300.15078882812327 1229.4883645038597)" />
<ellipse class="f" cx="247.41295883690051" cy="1621.2445074606712" rx="18.5" ry="11.5" transform="rotate(0 247.41295883690051 1621.2445074606712)" />
<ellipse class="f" cx="247.41295883690051" cy="1622.8445074606711" rx="18.5" ry="11.5" transform="rotate(0 247.41295883690051 1622.8445074606711)" />
<ellipse class="l" cx="247.41295883690051" cy="1623.3445074606711" rx="6.66" ry="4.6000000000000005" transform="rotate(0 247.41295883690051 1623.3445074606711)" />
<ellipse class="f" cx="280.0463619381991" cy="1621.2445074606712" rx="16.5" ry="10.5" transform="rotate(0 280.0463619381991 1621.2445074606712)" />
<ellipse class="f" cx="280.0463619381991" cy="1622.8445074606711" rx="16.5" ry="10.5" transform="rotate(0 280.0463619381991 1622.8445074606711)" />
<ellipse class="l" cx="280.0463619381991" cy="1623.3445074606711" rx="5.9399999999999995" ry="4.2" transform="rotate(0 280.0463619381991 1623.3445074606711)" />
<g transform="translate(200,1080) scale(0.225058)" >
<g transform="translate(302.0,590.0) rotate(-88.5)">
<path d="M0,-47.0 L178.0,-47.0 L178.0,47.0 L0,47.0 Q-10.3,0 0,-47.0 Z" style="fill:#3d3d3d;stroke:#333;stroke-width:1;vector-effect:non-scaling-stroke"/>
<path d="M6.4,-43.2 Q0.7,0 6.4,43.2 M19.1,-43.2 Q13.4,0 19.1,43.2 M31.8,-43.2 Q26.1,0 31.8,43.2 M44.5,-43.2 Q38.9,0 44.5,43.2 M57.2,-43.2 Q51.6,0 57.2,43.2 M69.9,-43.2 Q64.3,0 69.9,43.2 M82.6,-43.2 Q77.0,0 82.6,43.2 M95.4,-43.2 Q89.7,0 95.4,43.2 M108.1,-43.2 Q102.4,0 108.1,43.2 M120.8,-43.2 Q115.1,0 120.8,43.2 M133.5,-43.2 Q127.9,0 133.5,43.2 M146.2,-43.2 Q140.6,0 146.2,43.2 M158.9,-43.2 Q153.3,0 158.9,43.2 M171.6,-43.2 Q166.0,0 171.6,43.2" style="fill:none;stroke:#c8c8c8;stroke-width:0.55;vector-effect:non-scaling-stroke"/>
<path d="M0,-16.4 L178.0,-16.4 M0,18.8 L178.0,18.8" style="fill:none;stroke:#9a9a9a;stroke-width:0.5;stroke-dasharray:1.5 2;vector-effect:non-scaling-stroke"/>
<path class="f" d="M178.0,-74.0 Q157.3,0 178.0,74.0 L194.3,74.0 Q265.4,70.3 270.0,18.5 L270.0,-25.9 Q260.8,-72.5 194.3,-74.0 Z"/>
<path class="l" d="M194.3,-74.0 Q173.6,0 194.3,74.0"/>
<ellipse class="l" cx="244.2" cy="-1.5" rx="22.2" ry="31.1"/>
<path class="t" d="M224.0,22.2 L244.2,29.6"/>
</g>
<g transform="translate(452.0,600.0) rotate(-88.5)">
<path d="M0,-47.0 L185.0,-47.0 L185.0,47.0 L0,47.0 Q-10.3,0 0,-47.0 Z" style="fill:#3d3d3d;stroke:#333;stroke-width:1;vector-effect:non-scaling-stroke"/>
<path d="M6.6,-43.2 Q1.0,0 6.6,43.2 M19.8,-43.2 Q14.2,0 19.8,43.2 M33.0,-43.2 Q27.4,0 33.0,43.2 M46.2,-43.2 Q40.6,0 46.2,43.2 M59.5,-43.2 Q53.8,0 59.5,43.2 M72.7,-43.2 Q67.0,0 72.7,43.2 M85.9,-43.2 Q80.3,0 85.9,43.2 M99.1,-43.2 Q93.5,0 99.1,43.2 M112.3,-43.2 Q106.7,0 112.3,43.2 M125.5,-43.2 Q119.9,0 125.5,43.2 M138.8,-43.2 Q133.1,0 138.8,43.2 M152.0,-43.2 Q146.3,0 152.0,43.2 M165.2,-43.2 Q159.5,0 165.2,43.2 M178.4,-43.2 Q172.8,0 178.4,43.2" style="fill:none;stroke:#c8c8c8;stroke-width:0.55;vector-effect:non-scaling-stroke"/>
<path d="M0,-16.4 L185.0,-16.4 M0,18.8 L185.0,18.8" style="fill:none;stroke:#9a9a9a;stroke-width:0.5;stroke-dasharray:1.5 2;vector-effect:non-scaling-stroke"/>
<path class="f" d="M185.0,-72.0 Q164.8,0 185.0,72.0 L200.8,72.0 Q272.4,68.4 277.0,18.0 L277.0,-25.2 Q267.8,-70.6 200.8,-72.0 Z"/>
<path class="l" d="M200.8,-72.0 Q180.7,0 200.8,72.0"/>
<ellipse class="l" cx="251.2" cy="-1.4" rx="21.6" ry="30.2"/>
<path class="t" d="M231.0,21.6 L251.2,28.8"/>
</g>
</g>

<g transform="translate(100,1450) scale(0.225058)" >
<g transform="translate(657.0,845.0) rotate(91)">
<path d="M0,-47.0 L170.0,-47.0 L170.0,47.0 L0,47.0 Q-10.3,0 0,-47.0 Z" style="fill:#3d3d3d;stroke:#333;stroke-width:1;vector-effect:non-scaling-stroke"/>
<path d="M6.5,-43.2 Q0.9,0 6.5,43.2 M19.6,-43.2 Q14.0,0 19.6,43.2 M32.7,-43.2 Q27.1,0 32.7,43.2 M45.8,-43.2 Q40.1,0 45.8,43.2 M58.8,-43.2 Q53.2,0 58.8,43.2 M71.9,-43.2 Q66.3,0 71.9,43.2 M85.0,-43.2 Q79.4,0 85.0,43.2 M98.1,-43.2 Q92.4,0 98.1,43.2 M111.2,-43.2 Q105.5,0 111.2,43.2 M124.2,-43.2 Q118.6,0 124.2,43.2 M137.3,-43.2 Q131.7,0 137.3,43.2 M150.4,-43.2 Q144.7,0 150.4,43.2 M163.5,-43.2 Q157.8,0 163.5,43.2" style="fill:none;stroke:#c8c8c8;stroke-width:0.55;vector-effect:non-scaling-stroke"/>
<path d="M0,-16.4 L170.0,-16.4 M0,18.8 L170.0,18.8" style="fill:none;stroke:#9a9a9a;stroke-width:0.5;stroke-dasharray:1.5 2;vector-effect:non-scaling-stroke"/>
<path class="f" d="M170.0,-74.0 Q149.3,0 170.0,74.0 L186.3,74.0 Q257.4,70.3 262.0,18.5 L262.0,-25.9 Q252.8,-72.5 186.3,-74.0 Z"/>
<path class="l" d="M186.3,-74.0 Q165.6,0 186.3,74.0"/>
<ellipse class="l" cx="236.2" cy="-1.5" rx="22.2" ry="31.1"/>
<path class="t" d="M216.0,22.2 L236.2,29.6"/>
</g>
<g transform="translate(785.0,845.0) rotate(91)">
<path d="M0,-46.0 L175.0,-46.0 L175.0,46.0 L0,46.0 Q-10.1,0 0,-46.0 Z" style="fill:#3d3d3d;stroke:#333;stroke-width:1;vector-effect:non-scaling-stroke"/>
<path d="M6.2,-42.3 Q0.7,0 6.2,42.3 M18.8,-42.3 Q13.2,0 18.8,42.3 M31.2,-42.3 Q25.7,0 31.2,42.3 M43.8,-42.3 Q38.2,0 43.8,42.3 M56.2,-42.3 Q50.7,0 56.2,42.3 M68.8,-42.3 Q63.2,0 68.8,42.3 M81.2,-42.3 Q75.7,0 81.2,42.3 M93.8,-42.3 Q88.2,0 93.8,42.3 M106.2,-42.3 Q100.7,0 106.2,42.3 M118.8,-42.3 Q113.2,0 118.8,42.3 M131.2,-42.3 Q125.7,0 131.2,42.3 M143.8,-42.3 Q138.2,0 143.8,42.3 M156.2,-42.3 Q150.7,0 156.2,42.3 M168.8,-42.3 Q163.2,0 168.8,42.3" style="fill:none;stroke:#c8c8c8;stroke-width:0.55;vector-effect:non-scaling-stroke"/>
<path d="M0,-16.1 L175.0,-16.1 M0,18.4 L175.0,18.4" style="fill:none;stroke:#9a9a9a;stroke-width:0.5;stroke-dasharray:1.5 2;vector-effect:non-scaling-stroke"/>
<path class="f" d="M175.0,-72.0 Q154.8,0 175.0,72.0 L190.8,72.0 Q262.4,68.4 267.0,18.0 L267.0,-25.2 Q257.8,-70.6 190.8,-72.0 Z"/>
<path class="l" d="M190.8,-72.0 Q170.7,0 190.8,72.0"/>
<ellipse class="l" cx="241.2" cy="-1.4" rx="21.6" ry="30.2"/>
<path class="t" d="M221.0,21.6 L241.2,28.8"/>
</g>
</g>

<path class="t" d="M324.9,1119.4 L282.1,1154.3 M324.9,1119.4 L309.2,1155.4 M332.8,1217.3 L275.4,1234.2 M332.8,1217.3 L312.5,1228.5" />
<path class="t" d="M311.6,1640.8 L286.8,1630.0 M311.6,1640.8 L295.8,1623.3 M310.4,1718.9 L257.5,1696.4 M310.4,1718.9 L280.0,1684.1" />
</svg>
</body></html>
